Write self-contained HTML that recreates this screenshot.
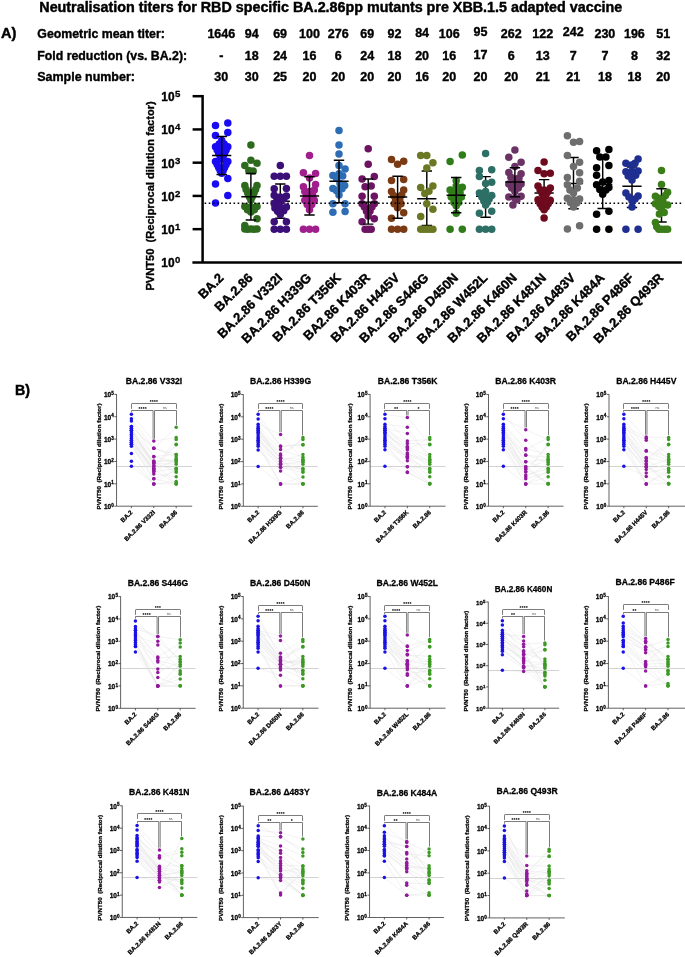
<!DOCTYPE html>
<html lang="en">
<head>
<meta charset="utf-8">
<title>Neutralisation titers for RBD specific BA.2.86pp mutants pre XBB.1.5 adapted vaccine</title>
<style>
html,body{margin:0;padding:0;background:#fff;}
body{width:685px;height:957px;overflow:hidden;font-family:"Liberation Sans", sans-serif;}
svg text{font-family:"Liberation Sans", sans-serif;}
</style>
</head>
<body>
<svg width="685" height="957" viewBox="0 0 685 957" font-family='"Liberation Sans", sans-serif' style="display:block;will-change:transform;opacity:0.999">
<rect width="685" height="957" fill="#fff"/>
<text x="39.30" y="11.80" font-size="14.0" font-weight="bold" fill="#000" textLength="583.0" lengthAdjust="spacingAndGlyphs" stroke="#000" stroke-width="0.43" stroke-linejoin="round" >Neutralisation titers for RBD specific BA.2.86pp mutants pre XBB.1.5 adapted vaccine</text>
<text x="1.00" y="37.80" font-size="14.6" font-weight="bold" fill="#000" textLength="15.4" lengthAdjust="spacingAndGlyphs" stroke="#000" stroke-width="0.45" stroke-linejoin="round" >A)</text>
<text x="15.00" y="394.60" font-size="15.2" font-weight="bold" fill="#000" textLength="15.0" lengthAdjust="spacingAndGlyphs" stroke="#000" stroke-width="0.47" stroke-linejoin="round" >B)</text>
<text x="37.30" y="37.90" font-size="12.3" font-weight="bold" fill="#000" textLength="127.5" lengthAdjust="spacingAndGlyphs" stroke="#000" stroke-width="0.38" stroke-linejoin="round" >Geometric mean titer:</text>
<text x="37.30" y="60.30" font-size="12.3" font-weight="bold" fill="#000" textLength="149.8" lengthAdjust="spacingAndGlyphs" stroke="#000" stroke-width="0.38" stroke-linejoin="round" >Fold reduction (vs. BA.2):</text>
<text x="37.30" y="81.00" font-size="12.3" font-weight="bold" fill="#000" textLength="97.6" lengthAdjust="spacingAndGlyphs" stroke="#000" stroke-width="0.38" stroke-linejoin="round" >Sample number:</text>
<text x="221.30" y="37.90" font-size="12.5" font-weight="bold" fill="#000" text-anchor="middle" stroke="#000" stroke-width="0.39" stroke-linejoin="round" >1646</text>
<text x="221.30" y="60.30" font-size="12.5" font-weight="bold" fill="#000" text-anchor="middle" stroke="#000" stroke-width="0.39" stroke-linejoin="round" >-</text>
<text x="221.30" y="81.00" font-size="12.5" font-weight="bold" fill="#000" text-anchor="middle" stroke="#000" stroke-width="0.39" stroke-linejoin="round" >30</text>
<text x="251.80" y="37.90" font-size="12.5" font-weight="bold" fill="#000" text-anchor="middle" stroke="#000" stroke-width="0.39" stroke-linejoin="round" >94</text>
<text x="251.80" y="60.30" font-size="12.5" font-weight="bold" fill="#000" text-anchor="middle" stroke="#000" stroke-width="0.39" stroke-linejoin="round" >18</text>
<text x="251.80" y="81.00" font-size="12.5" font-weight="bold" fill="#000" text-anchor="middle" stroke="#000" stroke-width="0.39" stroke-linejoin="round" >30</text>
<text x="280.10" y="37.90" font-size="12.5" font-weight="bold" fill="#000" text-anchor="middle" stroke="#000" stroke-width="0.39" stroke-linejoin="round" >69</text>
<text x="280.10" y="60.30" font-size="12.5" font-weight="bold" fill="#000" text-anchor="middle" stroke="#000" stroke-width="0.39" stroke-linejoin="round" >24</text>
<text x="280.10" y="81.00" font-size="12.5" font-weight="bold" fill="#000" text-anchor="middle" stroke="#000" stroke-width="0.39" stroke-linejoin="round" >25</text>
<text x="309.50" y="37.90" font-size="12.5" font-weight="bold" fill="#000" text-anchor="middle" stroke="#000" stroke-width="0.39" stroke-linejoin="round" >100</text>
<text x="309.50" y="60.30" font-size="12.5" font-weight="bold" fill="#000" text-anchor="middle" stroke="#000" stroke-width="0.39" stroke-linejoin="round" >16</text>
<text x="309.50" y="81.00" font-size="12.5" font-weight="bold" fill="#000" text-anchor="middle" stroke="#000" stroke-width="0.39" stroke-linejoin="round" >20</text>
<text x="338.20" y="37.90" font-size="12.5" font-weight="bold" fill="#000" text-anchor="middle" stroke="#000" stroke-width="0.39" stroke-linejoin="round" >276</text>
<text x="338.20" y="60.30" font-size="12.5" font-weight="bold" fill="#000" text-anchor="middle" stroke="#000" stroke-width="0.39" stroke-linejoin="round" >6</text>
<text x="338.20" y="81.00" font-size="12.5" font-weight="bold" fill="#000" text-anchor="middle" stroke="#000" stroke-width="0.39" stroke-linejoin="round" >20</text>
<text x="367.20" y="37.90" font-size="12.5" font-weight="bold" fill="#000" text-anchor="middle" stroke="#000" stroke-width="0.39" stroke-linejoin="round" >69</text>
<text x="367.20" y="60.30" font-size="12.5" font-weight="bold" fill="#000" text-anchor="middle" stroke="#000" stroke-width="0.39" stroke-linejoin="round" >24</text>
<text x="367.20" y="81.00" font-size="12.5" font-weight="bold" fill="#000" text-anchor="middle" stroke="#000" stroke-width="0.39" stroke-linejoin="round" >20</text>
<text x="394.40" y="37.90" font-size="12.5" font-weight="bold" fill="#000" text-anchor="middle" stroke="#000" stroke-width="0.39" stroke-linejoin="round" >92</text>
<text x="394.40" y="60.30" font-size="12.5" font-weight="bold" fill="#000" text-anchor="middle" stroke="#000" stroke-width="0.39" stroke-linejoin="round" >18</text>
<text x="394.40" y="81.00" font-size="12.5" font-weight="bold" fill="#000" text-anchor="middle" stroke="#000" stroke-width="0.39" stroke-linejoin="round" >20</text>
<text x="422.10" y="36.90" font-size="12.5" font-weight="bold" fill="#000" text-anchor="middle" stroke="#000" stroke-width="0.39" stroke-linejoin="round" >84</text>
<text x="422.10" y="60.30" font-size="12.5" font-weight="bold" fill="#000" text-anchor="middle" stroke="#000" stroke-width="0.39" stroke-linejoin="round" >20</text>
<text x="422.10" y="81.00" font-size="12.5" font-weight="bold" fill="#000" text-anchor="middle" stroke="#000" stroke-width="0.39" stroke-linejoin="round" >16</text>
<text x="449.20" y="37.90" font-size="12.5" font-weight="bold" fill="#000" text-anchor="middle" stroke="#000" stroke-width="0.39" stroke-linejoin="round" >106</text>
<text x="449.20" y="60.30" font-size="12.5" font-weight="bold" fill="#000" text-anchor="middle" stroke="#000" stroke-width="0.39" stroke-linejoin="round" >16</text>
<text x="449.20" y="81.00" font-size="12.5" font-weight="bold" fill="#000" text-anchor="middle" stroke="#000" stroke-width="0.39" stroke-linejoin="round" >20</text>
<text x="480.50" y="36.10" font-size="12.5" font-weight="bold" fill="#000" text-anchor="middle" stroke="#000" stroke-width="0.39" stroke-linejoin="round" >95</text>
<text x="480.50" y="58.70" font-size="12.5" font-weight="bold" fill="#000" text-anchor="middle" stroke="#000" stroke-width="0.39" stroke-linejoin="round" >17</text>
<text x="480.50" y="81.00" font-size="12.5" font-weight="bold" fill="#000" text-anchor="middle" stroke="#000" stroke-width="0.39" stroke-linejoin="round" >20</text>
<text x="511.20" y="37.90" font-size="12.5" font-weight="bold" fill="#000" text-anchor="middle" stroke="#000" stroke-width="0.39" stroke-linejoin="round" >262</text>
<text x="511.20" y="60.30" font-size="12.5" font-weight="bold" fill="#000" text-anchor="middle" stroke="#000" stroke-width="0.39" stroke-linejoin="round" >6</text>
<text x="511.20" y="81.00" font-size="12.5" font-weight="bold" fill="#000" text-anchor="middle" stroke="#000" stroke-width="0.39" stroke-linejoin="round" >20</text>
<text x="542.70" y="37.90" font-size="12.5" font-weight="bold" fill="#000" text-anchor="middle" stroke="#000" stroke-width="0.39" stroke-linejoin="round" >122</text>
<text x="542.70" y="60.30" font-size="12.5" font-weight="bold" fill="#000" text-anchor="middle" stroke="#000" stroke-width="0.39" stroke-linejoin="round" >13</text>
<text x="542.70" y="81.00" font-size="12.5" font-weight="bold" fill="#000" text-anchor="middle" stroke="#000" stroke-width="0.39" stroke-linejoin="round" >21</text>
<text x="573.20" y="36.10" font-size="12.5" font-weight="bold" fill="#000" text-anchor="middle" stroke="#000" stroke-width="0.39" stroke-linejoin="round" >242</text>
<text x="573.20" y="60.30" font-size="12.5" font-weight="bold" fill="#000" text-anchor="middle" stroke="#000" stroke-width="0.39" stroke-linejoin="round" >7</text>
<text x="573.20" y="81.00" font-size="12.5" font-weight="bold" fill="#000" text-anchor="middle" stroke="#000" stroke-width="0.39" stroke-linejoin="round" >21</text>
<text x="604.90" y="37.90" font-size="12.5" font-weight="bold" fill="#000" text-anchor="middle" stroke="#000" stroke-width="0.39" stroke-linejoin="round" >230</text>
<text x="604.90" y="60.30" font-size="12.5" font-weight="bold" fill="#000" text-anchor="middle" stroke="#000" stroke-width="0.39" stroke-linejoin="round" >7</text>
<text x="604.90" y="81.00" font-size="12.5" font-weight="bold" fill="#000" text-anchor="middle" stroke="#000" stroke-width="0.39" stroke-linejoin="round" >18</text>
<text x="634.40" y="37.90" font-size="12.5" font-weight="bold" fill="#000" text-anchor="middle" stroke="#000" stroke-width="0.39" stroke-linejoin="round" >196</text>
<text x="634.40" y="60.30" font-size="12.5" font-weight="bold" fill="#000" text-anchor="middle" stroke="#000" stroke-width="0.39" stroke-linejoin="round" >8</text>
<text x="634.40" y="81.00" font-size="12.5" font-weight="bold" fill="#000" text-anchor="middle" stroke="#000" stroke-width="0.39" stroke-linejoin="round" >18</text>
<text x="663.20" y="37.90" font-size="12.5" font-weight="bold" fill="#000" text-anchor="middle" stroke="#000" stroke-width="0.39" stroke-linejoin="round" >51</text>
<text x="663.20" y="60.30" font-size="12.5" font-weight="bold" fill="#000" text-anchor="middle" stroke="#000" stroke-width="0.39" stroke-linejoin="round" >32</text>
<text x="663.20" y="81.00" font-size="12.5" font-weight="bold" fill="#000" text-anchor="middle" stroke="#000" stroke-width="0.39" stroke-linejoin="round" >20</text>
<path d="M202.6 94.95V262.40" stroke="#000" stroke-width="2.5" fill="none"/>
<path d="M192.4 262.40H681.9" stroke="#000" stroke-width="2.5" fill="none"/>
<path d="M192.6 229.16H202.6" stroke="#000" stroke-width="2.5" fill="none"/>
<path d="M192.6 195.92H202.6" stroke="#000" stroke-width="2.5" fill="none"/>
<path d="M192.6 162.68H202.6" stroke="#000" stroke-width="2.5" fill="none"/>
<path d="M192.6 129.44H202.6" stroke="#000" stroke-width="2.5" fill="none"/>
<path d="M192.6 96.20H202.6" stroke="#000" stroke-width="2.5" fill="none"/>
<text x="174.50" y="267.30" font-size="11.9" font-weight="bold" fill="#000" text-anchor="end" stroke="#000" stroke-width="0.37" stroke-linejoin="round" >10</text>
<text x="174.90" y="263.40" font-size="9.6" font-weight="bold" fill="#000" stroke="#000" stroke-width="0.3" stroke-linejoin="round" >0</text>
<text x="174.50" y="234.06" font-size="11.9" font-weight="bold" fill="#000" text-anchor="end" stroke="#000" stroke-width="0.37" stroke-linejoin="round" >10</text>
<text x="174.90" y="230.16" font-size="9.6" font-weight="bold" fill="#000" stroke="#000" stroke-width="0.3" stroke-linejoin="round" >1</text>
<text x="174.50" y="200.82" font-size="11.9" font-weight="bold" fill="#000" text-anchor="end" stroke="#000" stroke-width="0.37" stroke-linejoin="round" >10</text>
<text x="174.90" y="196.92" font-size="9.6" font-weight="bold" fill="#000" stroke="#000" stroke-width="0.3" stroke-linejoin="round" >2</text>
<text x="174.50" y="167.58" font-size="11.9" font-weight="bold" fill="#000" text-anchor="end" stroke="#000" stroke-width="0.37" stroke-linejoin="round" >10</text>
<text x="174.90" y="163.68" font-size="9.6" font-weight="bold" fill="#000" stroke="#000" stroke-width="0.3" stroke-linejoin="round" >3</text>
<text x="174.50" y="134.34" font-size="11.9" font-weight="bold" fill="#000" text-anchor="end" stroke="#000" stroke-width="0.37" stroke-linejoin="round" >10</text>
<text x="174.90" y="130.44" font-size="9.6" font-weight="bold" fill="#000" stroke="#000" stroke-width="0.3" stroke-linejoin="round" >4</text>
<text x="174.50" y="101.10" font-size="11.9" font-weight="bold" fill="#000" text-anchor="end" stroke="#000" stroke-width="0.37" stroke-linejoin="round" >10</text>
<text x="174.90" y="97.20" font-size="9.6" font-weight="bold" fill="#000" stroke="#000" stroke-width="0.3" stroke-linejoin="round" >5</text>
<text x="154.20" y="290.60" font-size="11.4" font-weight="bold" fill="#000" textLength="189.4" lengthAdjust="spacingAndGlyphs" transform="rotate(-90 154.20 290.60)" stroke="#000" stroke-width="0.35" stroke-linejoin="round" >PVNT50&#160;&#160;(Reciprocal dilution factor)</text>
<text x="224.36" y="278.60" font-size="13.0" font-weight="bold" fill="#000" text-anchor="end" transform="rotate(-45 224.36 278.60)" stroke="#000" stroke-width="0.4" stroke-linejoin="round" >BA.2</text>
<text x="253.57" y="278.60" font-size="13.0" font-weight="bold" fill="#000" text-anchor="end" transform="rotate(-45 253.57 278.60)" stroke="#000" stroke-width="0.4" stroke-linejoin="round" >BA.2.86</text>
<text x="283.00" y="278.60" font-size="13.0" font-weight="bold" fill="#000" text-anchor="end" transform="rotate(-45 283.00 278.60)" stroke="#000" stroke-width="0.4" stroke-linejoin="round" >BA.2.86 V332I</text>
<text x="312.21" y="278.60" font-size="13.0" font-weight="bold" fill="#000" text-anchor="end" transform="rotate(-45 312.21 278.60)" stroke="#000" stroke-width="0.4" stroke-linejoin="round" >BA.2.86 H339G</text>
<text x="341.73" y="278.60" font-size="13.0" font-weight="bold" fill="#000" text-anchor="end" transform="rotate(-45 341.73 278.60)" stroke="#000" stroke-width="0.4" stroke-linejoin="round" >BA.2.86 T356K</text>
<text x="370.94" y="278.60" font-size="13.0" font-weight="bold" fill="#000" text-anchor="end" transform="rotate(-45 370.94 278.60)" stroke="#000" stroke-width="0.4" stroke-linejoin="round" >BA2.86 K403R</text>
<text x="400.32" y="278.60" font-size="13.0" font-weight="bold" fill="#000" text-anchor="end" transform="rotate(-45 400.32 278.60)" stroke="#000" stroke-width="0.4" stroke-linejoin="round" >BA.2.86 H445V</text>
<text x="429.53" y="278.60" font-size="13.0" font-weight="bold" fill="#000" text-anchor="end" transform="rotate(-45 429.53 278.60)" stroke="#000" stroke-width="0.4" stroke-linejoin="round" >BA.2.86 S446G</text>
<text x="458.91" y="278.60" font-size="13.0" font-weight="bold" fill="#000" text-anchor="end" transform="rotate(-45 458.91 278.60)" stroke="#000" stroke-width="0.4" stroke-linejoin="round" >BA.2.86 D450N</text>
<text x="488.26" y="278.60" font-size="13.0" font-weight="bold" fill="#000" text-anchor="end" transform="rotate(-45 488.26 278.60)" stroke="#000" stroke-width="0.4" stroke-linejoin="round" >BA.2.86 W452L</text>
<text x="517.64" y="278.60" font-size="13.0" font-weight="bold" fill="#000" text-anchor="end" transform="rotate(-45 517.64 278.60)" stroke="#000" stroke-width="0.4" stroke-linejoin="round" >BA.2.86 K460N</text>
<text x="546.85" y="278.60" font-size="13.0" font-weight="bold" fill="#000" text-anchor="end" transform="rotate(-45 546.85 278.60)" stroke="#000" stroke-width="0.4" stroke-linejoin="round" >BA.2.86 K481N</text>
<text x="576.24" y="278.60" font-size="13.0" font-weight="bold" fill="#000" text-anchor="end" transform="rotate(-45 576.24 278.60)" stroke="#000" stroke-width="0.4" stroke-linejoin="round" >BA.2.86 &#916;483V</text>
<text x="605.44" y="278.60" font-size="13.0" font-weight="bold" fill="#000" text-anchor="end" transform="rotate(-45 605.44 278.60)" stroke="#000" stroke-width="0.4" stroke-linejoin="round" >BA.2.86 K484A</text>
<text x="634.69" y="278.60" font-size="13.0" font-weight="bold" fill="#000" text-anchor="end" transform="rotate(-45 634.69 278.60)" stroke="#000" stroke-width="0.4" stroke-linejoin="round" >BA.2.86 P486F</text>
<text x="664.17" y="278.60" font-size="13.0" font-weight="bold" fill="#000" text-anchor="end" transform="rotate(-45 664.17 278.60)" stroke="#000" stroke-width="0.4" stroke-linejoin="round" >BA.2.86 Q493R</text>
<g fill="#1a0cf2"><circle cx="227.8" cy="122.9" r="3.75"/><circle cx="215.5" cy="125.6" r="3.75"/><circle cx="227.8" cy="132.4" r="3.75"/><circle cx="215.5" cy="135.5" r="3.75"/><circle cx="221.7" cy="140.6" r="3.75"/><circle cx="219.2" cy="144.0" r="3.75"/><circle cx="224.1" cy="144.0" r="3.75"/><circle cx="215.5" cy="146.7" r="3.75"/><circle cx="227.8" cy="146.7" r="3.75"/><circle cx="217.2" cy="150.1" r="3.75"/><circle cx="226.1" cy="150.1" r="3.75"/><circle cx="218.7" cy="153.2" r="3.75"/><circle cx="224.6" cy="153.2" r="3.75"/><circle cx="220.2" cy="156.2" r="3.75"/><circle cx="223.2" cy="156.2" r="3.75"/><circle cx="221.7" cy="159.2" r="3.75"/><circle cx="221.7" cy="149.7" r="3.75"/><circle cx="215.5" cy="161.6" r="3.75"/><circle cx="227.8" cy="161.6" r="3.75"/><circle cx="217.2" cy="164.6" r="3.75"/><circle cx="226.1" cy="164.6" r="3.75"/><circle cx="218.7" cy="167.6" r="3.75"/><circle cx="224.6" cy="167.6" r="3.75"/><circle cx="220.2" cy="170.4" r="3.75"/><circle cx="223.2" cy="170.4" r="3.75"/><circle cx="221.7" cy="173.2" r="3.75"/><circle cx="227.8" cy="178.6" r="3.75"/><circle cx="215.5" cy="184.0" r="3.75"/><circle cx="227.8" cy="195.6" r="3.75"/><circle cx="215.5" cy="203.1" r="3.75"/></g>
<g fill="#2d6a1e"><circle cx="250.9" cy="145.0" r="3.75"/><circle cx="250.9" cy="160.3" r="3.75"/><circle cx="257.0" cy="163.2" r="3.75"/><circle cx="244.8" cy="165.4" r="3.75"/><circle cx="248.8" cy="170.4" r="3.75"/><circle cx="253.2" cy="171.1" r="3.75"/><circle cx="244.8" cy="185.4" r="3.75"/><circle cx="257.0" cy="185.4" r="3.75"/><circle cx="246.1" cy="189.5" r="3.75"/><circle cx="255.6" cy="189.5" r="3.75"/><circle cx="247.7" cy="193.1" r="3.75"/><circle cx="254.0" cy="193.1" r="3.75"/><circle cx="249.5" cy="196.9" r="3.75"/><circle cx="252.2" cy="196.9" r="3.75"/><circle cx="250.9" cy="199.9" r="3.75"/><circle cx="244.8" cy="206.4" r="3.75"/><circle cx="257.0" cy="206.4" r="3.75"/><circle cx="247.5" cy="209.8" r="3.75"/><circle cx="254.3" cy="209.8" r="3.75"/><circle cx="250.9" cy="211.9" r="3.75"/><circle cx="257.0" cy="218.7" r="3.75"/><circle cx="244.8" cy="225.5" r="3.75"/><circle cx="244.8" cy="228.9" r="3.75"/><circle cx="250.9" cy="228.9" r="3.75"/><circle cx="257.0" cy="228.9" r="3.75"/><circle cx="247.7" cy="229.3" r="3.75"/><circle cx="254.0" cy="229.3" r="3.75"/><circle cx="250.9" cy="195.3" r="3.75"/><circle cx="250.9" cy="193.1" r="3.75"/><circle cx="250.9" cy="206.7" r="3.75"/></g>
<g fill="#a11f8d"><circle cx="309.5" cy="155.5" r="3.75"/><circle cx="303.4" cy="172.8" r="3.75"/><circle cx="315.6" cy="173.6" r="3.75"/><circle cx="309.5" cy="177.9" r="3.75"/><circle cx="303.4" cy="186.8" r="3.75"/><circle cx="315.6" cy="184.4" r="3.75"/><circle cx="304.8" cy="191.5" r="3.75"/><circle cx="314.3" cy="190.1" r="3.75"/><circle cx="306.4" cy="195.6" r="3.75"/><circle cx="312.6" cy="194.9" r="3.75"/><circle cx="309.5" cy="198.3" r="3.75"/><circle cx="304.8" cy="200.3" r="3.75"/><circle cx="314.3" cy="200.3" r="3.75"/><circle cx="307.2" cy="204.4" r="3.75"/><circle cx="311.8" cy="204.4" r="3.75"/><circle cx="309.5" cy="209.8" r="3.75"/><circle cx="303.4" cy="229.3" r="3.75"/><circle cx="309.5" cy="229.3" r="3.75"/><circle cx="315.6" cy="229.3" r="3.75"/><circle cx="309.5" cy="191.5" r="3.75"/></g>
<g fill="#2e6cb3"><circle cx="339.0" cy="130.6" r="3.75"/><circle cx="339.0" cy="145.0" r="3.75"/><circle cx="339.0" cy="154.1" r="3.75"/><circle cx="339.0" cy="165.4" r="3.75"/><circle cx="345.1" cy="169.1" r="3.75"/><circle cx="332.9" cy="175.5" r="3.75"/><circle cx="342.7" cy="175.9" r="3.75"/><circle cx="336.6" cy="178.6" r="3.75"/><circle cx="344.7" cy="185.4" r="3.75"/><circle cx="332.9" cy="188.5" r="3.75"/><circle cx="342.0" cy="188.8" r="3.75"/><circle cx="336.6" cy="190.8" r="3.75"/><circle cx="339.0" cy="194.9" r="3.75"/><circle cx="340.0" cy="183.4" r="3.75"/><circle cx="332.9" cy="203.7" r="3.75"/><circle cx="345.1" cy="203.7" r="3.75"/><circle cx="332.9" cy="212.2" r="3.75"/><circle cx="345.1" cy="211.6" r="3.75"/><circle cx="339.0" cy="173.8" r="3.75"/><circle cx="339.0" cy="189.5" r="3.75"/></g>
<g fill="#6d1363"><circle cx="368.2" cy="148.7" r="3.75"/><circle cx="368.2" cy="164.3" r="3.75"/><circle cx="374.3" cy="176.6" r="3.75"/><circle cx="362.1" cy="179.0" r="3.75"/><circle cx="365.1" cy="186.8" r="3.75"/><circle cx="371.2" cy="186.1" r="3.75"/><circle cx="362.1" cy="196.3" r="3.75"/><circle cx="374.3" cy="196.3" r="3.75"/><circle cx="362.1" cy="203.7" r="3.75"/><circle cx="374.3" cy="203.7" r="3.75"/><circle cx="364.4" cy="207.1" r="3.75"/><circle cx="371.9" cy="207.1" r="3.75"/><circle cx="366.5" cy="211.2" r="3.75"/><circle cx="369.9" cy="211.2" r="3.75"/><circle cx="368.2" cy="216.0" r="3.75"/><circle cx="374.3" cy="218.7" r="3.75"/><circle cx="362.1" cy="221.7" r="3.75"/><circle cx="365.1" cy="229.3" r="3.75"/><circle cx="371.2" cy="229.3" r="3.75"/><circle cx="368.2" cy="229.3" r="3.75"/></g>
<g fill="#7a3b14"><circle cx="391.5" cy="159.6" r="3.75"/><circle cx="403.7" cy="161.3" r="3.75"/><circle cx="397.6" cy="164.3" r="3.75"/><circle cx="391.5" cy="180.6" r="3.75"/><circle cx="403.7" cy="179.6" r="3.75"/><circle cx="391.5" cy="191.5" r="3.75"/><circle cx="403.7" cy="190.1" r="3.75"/><circle cx="393.5" cy="195.6" r="3.75"/><circle cx="401.7" cy="194.9" r="3.75"/><circle cx="395.6" cy="199.7" r="3.75"/><circle cx="399.7" cy="199.7" r="3.75"/><circle cx="397.6" cy="203.7" r="3.75"/><circle cx="397.6" cy="207.8" r="3.75"/><circle cx="394.2" cy="203.7" r="3.75"/><circle cx="401.0" cy="203.7" r="3.75"/><circle cx="403.7" cy="212.8" r="3.75"/><circle cx="391.5" cy="218.3" r="3.75"/><circle cx="391.5" cy="229.3" r="3.75"/><circle cx="397.6" cy="229.3" r="3.75"/><circle cx="403.7" cy="229.3" r="3.75"/></g>
<g fill="#2e7d19"><circle cx="462.3" cy="155.1" r="3.75"/><circle cx="450.1" cy="161.6" r="3.75"/><circle cx="456.2" cy="180.6" r="3.75"/><circle cx="462.3" cy="187.2" r="3.75"/><circle cx="450.1" cy="190.1" r="3.75"/><circle cx="452.5" cy="193.5" r="3.75"/><circle cx="460.0" cy="192.2" r="3.75"/><circle cx="454.6" cy="196.9" r="3.75"/><circle cx="458.0" cy="196.3" r="3.75"/><circle cx="456.2" cy="199.7" r="3.75"/><circle cx="451.2" cy="196.9" r="3.75"/><circle cx="461.4" cy="196.9" r="3.75"/><circle cx="453.9" cy="202.4" r="3.75"/><circle cx="458.7" cy="202.4" r="3.75"/><circle cx="456.2" cy="205.8" r="3.75"/><circle cx="456.2" cy="191.5" r="3.75"/><circle cx="456.2" cy="213.2" r="3.75"/><circle cx="450.1" cy="229.3" r="3.75"/><circle cx="462.3" cy="229.3" r="3.75"/><circle cx="456.2" cy="186.1" r="3.75"/></g>
<path d="M204.6 203.3H683" stroke="#000" stroke-width="1.6" stroke-dasharray="1.6 2.53" fill="none"/>
<path d="M221.7 136.5V174.5M216.5 136.5h10.4M216.5 174.5h10.4M212.1 155.5h19.2" stroke="#000" stroke-width="1.45" fill="none"/>
<path d="M250.9 173.4V220.0M245.7 173.4h10.4M245.7 220.0h10.4M241.3 196.7h19.2" stroke="#000" stroke-width="1.45" fill="none"/>
<path d="M309.5 176.8V214.9M304.3 176.8h10.4M304.3 214.9h10.4M299.9 195.9h19.2" stroke="#000" stroke-width="1.45" fill="none"/>
<path d="M339.0 160.3V202.7M333.8 160.3h10.4M333.8 202.7h10.4M329.4 181.2h19.2" stroke="#000" stroke-width="1.45" fill="none"/>
<path d="M368.2 179.0V224.1M363.0 179.0h10.4M363.0 224.1h10.4M358.6 202.1h19.2" stroke="#000" stroke-width="1.45" fill="none"/>
<path d="M397.6 176.2V218.3M392.4 176.2h10.4M392.4 218.3h10.4M388.0 197.0h19.2" stroke="#000" stroke-width="1.45" fill="none"/>
<path d="M456.2 177.5V212.8M451.0 177.5h10.4M451.0 212.8h10.4M446.6 195.3h19.2" stroke="#000" stroke-width="1.45" fill="none"/>
<g fill="#6b3365"><circle cx="514.9" cy="150.1" r="3.75"/><circle cx="508.8" cy="157.3" r="3.75"/><circle cx="521.1" cy="162.3" r="3.75"/><circle cx="514.9" cy="166.4" r="3.75"/><circle cx="508.8" cy="172.5" r="3.75"/><circle cx="521.1" cy="173.8" r="3.75"/><circle cx="510.9" cy="177.2" r="3.75"/><circle cx="519.0" cy="177.9" r="3.75"/><circle cx="514.9" cy="179.3" r="3.75"/><circle cx="508.8" cy="184.0" r="3.75"/><circle cx="521.1" cy="184.0" r="3.75"/><circle cx="511.5" cy="188.1" r="3.75"/><circle cx="518.3" cy="188.1" r="3.75"/><circle cx="514.9" cy="191.5" r="3.75"/><circle cx="508.8" cy="196.9" r="3.75"/><circle cx="521.1" cy="196.3" r="3.75"/><circle cx="514.9" cy="198.3" r="3.75"/><circle cx="512.9" cy="205.1" r="3.75"/><circle cx="514.9" cy="185.4" r="3.75"/><circle cx="517.0" cy="199.7" r="3.75"/></g>
<path d="M514.9 167.7V196.7M509.7 167.7h10.4M509.7 196.7h10.4M505.3 182.0h19.2" stroke="#000" stroke-width="1.45" fill="none"/>
<path d="M280.3 184.0V218.3M275.1 184.0h10.4M275.1 218.3h10.4M270.7 201.3h19.2" stroke="#000" stroke-width="1.45" fill="none"/>
<g fill="#3b0f78"><circle cx="280.3" cy="165.4" r="3.75"/><circle cx="274.2" cy="176.2" r="3.75"/><circle cx="280.3" cy="176.2" r="3.75"/><circle cx="286.4" cy="176.2" r="3.75"/><circle cx="274.2" cy="188.8" r="3.75"/><circle cx="286.4" cy="188.5" r="3.75"/><circle cx="274.2" cy="195.3" r="3.75"/><circle cx="286.4" cy="195.9" r="3.75"/><circle cx="276.9" cy="198.3" r="3.75"/><circle cx="283.7" cy="199.0" r="3.75"/><circle cx="280.3" cy="201.7" r="3.75"/><circle cx="274.2" cy="203.5" r="3.75"/><circle cx="277.6" cy="205.8" r="3.75"/><circle cx="286.4" cy="207.1" r="3.75"/><circle cx="274.9" cy="208.1" r="3.75"/><circle cx="277.6" cy="211.2" r="3.75"/><circle cx="283.7" cy="210.8" r="3.75"/><circle cx="280.3" cy="214.6" r="3.75"/><circle cx="274.2" cy="221.7" r="3.75"/><circle cx="286.4" cy="221.7" r="3.75"/><circle cx="274.2" cy="229.3" r="3.75"/><circle cx="280.3" cy="229.3" r="3.75"/><circle cx="286.4" cy="229.3" r="3.75"/><circle cx="280.3" cy="196.9" r="3.75"/><circle cx="280.3" cy="207.8" r="3.75"/></g>
<path d="M426.8 170.9V225.5M421.6 170.9h10.4M421.6 225.5h10.4M417.2 198.7h19.2" stroke="#000" stroke-width="1.45" fill="none"/>
<g fill="#6b7823"><circle cx="420.7" cy="155.5" r="3.75"/><circle cx="426.8" cy="155.5" r="3.75"/><circle cx="432.9" cy="162.7" r="3.75"/><circle cx="426.8" cy="168.1" r="3.75"/><circle cx="420.7" cy="187.4" r="3.75"/><circle cx="432.9" cy="186.1" r="3.75"/><circle cx="428.9" cy="191.2" r="3.75"/><circle cx="424.8" cy="193.5" r="3.75"/><circle cx="426.8" cy="203.7" r="3.75"/><circle cx="432.9" cy="209.2" r="3.75"/><circle cx="420.7" cy="216.4" r="3.75"/><circle cx="420.7" cy="229.3" r="3.75"/><circle cx="423.7" cy="229.3" r="3.75"/><circle cx="426.8" cy="229.3" r="3.75"/><circle cx="429.8" cy="229.3" r="3.75"/><circle cx="432.9" cy="229.3" r="3.75"/></g>
<path d="M485.6 176.6V217.3M480.4 176.6h10.4M480.4 217.3h10.4M476.0 196.3h19.2" stroke="#000" stroke-width="1.45" fill="none"/>
<g fill="#2d6e65"><circle cx="485.6" cy="153.5" r="3.75"/><circle cx="479.4" cy="170.4" r="3.75"/><circle cx="491.7" cy="169.8" r="3.75"/><circle cx="479.4" cy="176.6" r="3.75"/><circle cx="485.6" cy="183.4" r="3.75"/><circle cx="491.7" cy="182.3" r="3.75"/><circle cx="479.4" cy="192.9" r="3.75"/><circle cx="491.7" cy="195.6" r="3.75"/><circle cx="481.8" cy="196.9" r="3.75"/><circle cx="489.2" cy="199.0" r="3.75"/><circle cx="483.8" cy="201.0" r="3.75"/><circle cx="487.2" cy="202.4" r="3.75"/><circle cx="485.6" cy="205.1" r="3.75"/><circle cx="485.6" cy="196.9" r="3.75"/><circle cx="479.4" cy="213.2" r="3.75"/><circle cx="491.7" cy="211.2" r="3.75"/><circle cx="479.4" cy="229.3" r="3.75"/><circle cx="485.6" cy="229.3" r="3.75"/><circle cx="491.7" cy="229.3" r="3.75"/><circle cx="485.6" cy="191.5" r="3.75"/></g>
<path d="M544.1 179.6V207.1M538.9 179.6h10.4M538.9 207.1h10.4M534.5 192.9h19.2" stroke="#000" stroke-width="1.45" fill="none"/>
<g fill="#6e0a1e"><circle cx="544.1" cy="161.9" r="3.75"/><circle cx="538.0" cy="170.4" r="3.75"/><circle cx="550.3" cy="173.2" r="3.75"/><circle cx="544.1" cy="173.8" r="3.75"/><circle cx="538.0" cy="186.1" r="3.75"/><circle cx="550.3" cy="188.1" r="3.75"/><circle cx="540.1" cy="190.1" r="3.75"/><circle cx="548.2" cy="191.5" r="3.75"/><circle cx="542.1" cy="193.5" r="3.75"/><circle cx="546.2" cy="194.2" r="3.75"/><circle cx="544.1" cy="196.9" r="3.75"/><circle cx="538.0" cy="199.7" r="3.75"/><circle cx="550.3" cy="200.3" r="3.75"/><circle cx="540.1" cy="203.7" r="3.75"/><circle cx="548.2" cy="203.7" r="3.75"/><circle cx="542.1" cy="207.1" r="3.75"/><circle cx="546.2" cy="207.1" r="3.75"/><circle cx="544.1" cy="209.8" r="3.75"/><circle cx="544.1" cy="202.4" r="3.75"/><circle cx="544.1" cy="218.0" r="3.75"/><circle cx="544.1" cy="190.1" r="3.75"/></g>
<path d="M573.5 157.5V208.8M568.3 157.5h10.4M568.3 208.8h10.4M563.9 183.4h19.2" stroke="#000" stroke-width="1.45" fill="none"/>
<g fill="#6e6e6e"><circle cx="567.4" cy="135.8" r="3.75"/><circle cx="573.5" cy="142.3" r="3.75"/><circle cx="579.6" cy="141.5" r="3.75"/><circle cx="567.4" cy="155.5" r="3.75"/><circle cx="579.6" cy="162.3" r="3.75"/><circle cx="573.5" cy="166.4" r="3.75"/><circle cx="579.6" cy="172.8" r="3.75"/><circle cx="567.4" cy="177.6" r="3.75"/><circle cx="579.6" cy="181.3" r="3.75"/><circle cx="567.4" cy="184.7" r="3.75"/><circle cx="569.9" cy="190.1" r="3.75"/><circle cx="577.3" cy="188.1" r="3.75"/><circle cx="573.5" cy="192.9" r="3.75"/><circle cx="567.4" cy="198.3" r="3.75"/><circle cx="579.6" cy="199.0" r="3.75"/><circle cx="570.5" cy="202.4" r="3.75"/><circle cx="576.7" cy="203.1" r="3.75"/><circle cx="573.5" cy="207.1" r="3.75"/><circle cx="579.6" cy="225.7" r="3.75"/><circle cx="567.4" cy="228.9" r="3.75"/><circle cx="573.5" cy="199.7" r="3.75"/></g>
<path d="M602.7 157.5V208.5M597.5 157.5h10.4M597.5 208.5h10.4M593.1 184.4h19.2" stroke="#000" stroke-width="1.45" fill="none"/>
<g fill="#000000"><circle cx="608.9" cy="149.4" r="3.75"/><circle cx="596.6" cy="150.8" r="3.75"/><circle cx="599.8" cy="156.9" r="3.75"/><circle cx="605.9" cy="156.9" r="3.75"/><circle cx="608.9" cy="165.4" r="3.75"/><circle cx="596.6" cy="167.7" r="3.75"/><circle cx="596.6" cy="175.2" r="3.75"/><circle cx="608.9" cy="180.6" r="3.75"/><circle cx="602.7" cy="182.0" r="3.75"/><circle cx="596.6" cy="184.7" r="3.75"/><circle cx="608.9" cy="187.4" r="3.75"/><circle cx="599.8" cy="189.5" r="3.75"/><circle cx="605.9" cy="190.1" r="3.75"/><circle cx="602.7" cy="194.2" r="3.75"/><circle cx="608.9" cy="211.2" r="3.75"/><circle cx="596.6" cy="214.3" r="3.75"/><circle cx="596.6" cy="229.3" r="3.75"/><circle cx="608.9" cy="229.3" r="3.75"/></g>
<path d="M632.0 167.0V207.5M626.8 167.0h10.4M626.8 207.5h10.4M622.4 186.3h19.2" stroke="#000" stroke-width="1.45" fill="none"/>
<g fill="#1f2e91"><circle cx="638.1" cy="158.9" r="3.75"/><circle cx="625.9" cy="163.2" r="3.75"/><circle cx="635.0" cy="163.2" r="3.75"/><circle cx="631.6" cy="165.0" r="3.75"/><circle cx="625.9" cy="171.8" r="3.75"/><circle cx="638.1" cy="171.1" r="3.75"/><circle cx="628.2" cy="175.9" r="3.75"/><circle cx="635.7" cy="175.2" r="3.75"/><circle cx="632.0" cy="180.0" r="3.75"/><circle cx="625.9" cy="192.9" r="3.75"/><circle cx="638.1" cy="195.9" r="3.75"/><circle cx="628.9" cy="196.9" r="3.75"/><circle cx="635.0" cy="199.0" r="3.75"/><circle cx="632.0" cy="200.7" r="3.75"/><circle cx="632.0" cy="207.1" r="3.75"/><circle cx="625.9" cy="229.3" r="3.75"/><circle cx="638.1" cy="229.3" r="3.75"/><circle cx="632.0" cy="171.1" r="3.75"/></g>
<path d="M661.5 188.8V222.0M656.3 188.8h10.4M656.3 222.0h10.4M651.9 204.0h19.2" stroke="#000" stroke-width="1.45" fill="none"/>
<g fill="#3a7d19"><circle cx="661.5" cy="170.4" r="3.75"/><circle cx="661.5" cy="184.4" r="3.75"/><circle cx="667.6" cy="192.2" r="3.75"/><circle cx="655.4" cy="196.3" r="3.75"/><circle cx="665.5" cy="195.6" r="3.75"/><circle cx="658.8" cy="198.3" r="3.75"/><circle cx="662.8" cy="200.3" r="3.75"/><circle cx="655.4" cy="203.7" r="3.75"/><circle cx="667.6" cy="205.1" r="3.75"/><circle cx="658.8" cy="206.4" r="3.75"/><circle cx="661.5" cy="208.5" r="3.75"/><circle cx="664.2" cy="212.6" r="3.75"/><circle cx="659.4" cy="213.9" r="3.75"/><circle cx="655.4" cy="222.5" r="3.75"/><circle cx="658.8" cy="229.3" r="3.75"/><circle cx="661.7" cy="229.3" r="3.75"/><circle cx="664.9" cy="229.3" r="3.75"/><circle cx="667.6" cy="229.3" r="3.75"/><circle cx="656.7" cy="226.8" r="3.75"/><circle cx="661.5" cy="203.7" r="3.75"/></g>
<text x="154.00" y="384.00" font-size="8.6" font-weight="bold" fill="#000" text-anchor="middle" stroke="#000" stroke-width="0.27" stroke-linejoin="round" >BA.2.86 V332I</text>
<path d="M116.55 466.5H192.2" stroke="#b4b4b4" stroke-width="0.6" fill="none"/>
<path d="M131.4 414.2L153.8 441.0L176.2 437.5M131.4 418.8L153.8 448.2L176.2 454.4M131.4 420.9L153.8 456.5L176.2 454.4M131.4 426.5L153.8 448.2L176.2 427.3M131.4 426.5L153.8 448.2L176.2 457.1M131.4 428.4L153.8 456.7L176.2 462.2M131.4 428.4L153.8 466.6L176.2 444.3M131.4 430.4L153.8 461.4L176.2 459.6M131.4 430.6L153.8 461.1L176.2 461.1M131.4 430.6L153.8 463.1L176.2 483.6M131.4 432.7L153.8 462.2L176.2 472.2M131.4 434.8L153.8 463.5L176.2 464.2M131.4 434.8L153.8 465.4L176.2 468.6M131.4 436.8L153.8 469.7L176.2 444.8M131.4 438.4L153.8 471.5L176.2 459.6M131.4 440.4L153.8 468.1L176.2 439.5M131.4 440.4L153.8 469.0L176.2 459.6M131.4 442.4L153.8 471.8L176.2 468.7M131.4 442.4L153.8 469.5L176.2 483.9M131.4 444.3L153.8 474.0L176.2 476.8M131.4 444.3L153.8 478.8L176.2 470.8M131.4 446.2L153.8 478.8L176.2 483.6M131.4 453.5L153.8 483.9L176.2 468.6M131.4 461.3L153.8 483.9L176.2 483.9M131.4 466.3L153.8 483.9L176.2 481.4" stroke="#e2e2e2" stroke-width="0.45" fill="none"/>
<path d="M131.5 408.9V404.1Q131.5 403.5 132.1 403.5H175.9Q176.5 403.5 176.5 404.1V408.9M131.5 411.9V410.5H153.08V438.8M154.52 438.8V410.5H176.5V425.0" stroke="#484848" stroke-width="0.72" fill="none"/>
<g fill="#2a2a2a"><circle cx="150.65" cy="400.90" r="0.85"/><circle cx="152.75" cy="400.90" r="0.85"/><circle cx="154.85" cy="400.90" r="0.85"/><circle cx="156.95" cy="400.90" r="0.85"/></g>
<g fill="#2a2a2a"><circle cx="139.45" cy="407.90" r="0.85"/><circle cx="141.55" cy="407.90" r="0.85"/><circle cx="143.65" cy="407.90" r="0.85"/><circle cx="145.75" cy="407.90" r="0.85"/></g>
<text x="165.00" y="409.00" font-size="3.7" font-weight="normal" fill="#444" text-anchor="middle" >ns</text>
<g fill="#1a12e4"><circle cx="131.4" cy="414.2" r="1.75"/><circle cx="131.4" cy="418.8" r="1.75"/><circle cx="131.4" cy="420.9" r="1.75"/><circle cx="131.4" cy="426.5" r="1.75"/><circle cx="131.4" cy="426.5" r="1.75"/><circle cx="131.4" cy="428.4" r="1.75"/><circle cx="131.4" cy="428.4" r="1.75"/><circle cx="131.4" cy="430.4" r="1.75"/><circle cx="131.4" cy="430.6" r="1.75"/><circle cx="131.4" cy="430.6" r="1.75"/><circle cx="131.4" cy="432.7" r="1.75"/><circle cx="131.4" cy="434.8" r="1.75"/><circle cx="131.4" cy="434.8" r="1.75"/><circle cx="131.4" cy="436.8" r="1.75"/><circle cx="131.4" cy="438.4" r="1.75"/><circle cx="131.4" cy="440.4" r="1.75"/><circle cx="131.4" cy="440.4" r="1.75"/><circle cx="131.4" cy="442.4" r="1.75"/><circle cx="131.4" cy="442.4" r="1.75"/><circle cx="131.4" cy="444.3" r="1.75"/><circle cx="131.4" cy="444.3" r="1.75"/><circle cx="131.4" cy="446.2" r="1.75"/><circle cx="131.4" cy="453.5" r="1.75"/><circle cx="131.4" cy="461.3" r="1.75"/><circle cx="131.4" cy="466.3" r="1.75"/></g>
<g fill="#92199e"><circle cx="153.8" cy="441.0" r="1.75"/><circle cx="153.8" cy="448.2" r="1.75"/><circle cx="153.8" cy="448.2" r="1.75"/><circle cx="153.8" cy="448.2" r="1.75"/><circle cx="153.8" cy="456.5" r="1.75"/><circle cx="153.8" cy="456.7" r="1.75"/><circle cx="153.8" cy="461.1" r="1.75"/><circle cx="153.8" cy="461.4" r="1.75"/><circle cx="153.8" cy="462.2" r="1.75"/><circle cx="153.8" cy="463.1" r="1.75"/><circle cx="153.8" cy="463.5" r="1.75"/><circle cx="153.8" cy="465.4" r="1.75"/><circle cx="153.8" cy="466.6" r="1.75"/><circle cx="153.8" cy="468.1" r="1.75"/><circle cx="153.8" cy="469.0" r="1.75"/><circle cx="153.8" cy="469.5" r="1.75"/><circle cx="153.8" cy="469.7" r="1.75"/><circle cx="153.8" cy="471.5" r="1.75"/><circle cx="153.8" cy="471.8" r="1.75"/><circle cx="153.8" cy="474.0" r="1.75"/><circle cx="153.8" cy="478.8" r="1.75"/><circle cx="153.8" cy="478.8" r="1.75"/><circle cx="153.8" cy="483.9" r="1.75"/><circle cx="153.8" cy="483.9" r="1.75"/><circle cx="153.8" cy="483.9" r="1.75"/></g>
<g fill="#3c9a24"><circle cx="176.2" cy="427.3" r="1.75"/><circle cx="176.2" cy="437.5" r="1.75"/><circle cx="176.2" cy="439.5" r="1.75"/><circle cx="176.2" cy="444.3" r="1.75"/><circle cx="176.2" cy="444.8" r="1.75"/><circle cx="176.2" cy="454.4" r="1.75"/><circle cx="176.2" cy="454.4" r="1.75"/><circle cx="176.2" cy="457.1" r="1.75"/><circle cx="176.2" cy="459.6" r="1.75"/><circle cx="176.2" cy="459.6" r="1.75"/><circle cx="176.2" cy="459.6" r="1.75"/><circle cx="176.2" cy="461.1" r="1.75"/><circle cx="176.2" cy="462.2" r="1.75"/><circle cx="176.2" cy="464.2" r="1.75"/><circle cx="176.2" cy="468.6" r="1.75"/><circle cx="176.2" cy="468.6" r="1.75"/><circle cx="176.2" cy="468.7" r="1.75"/><circle cx="176.2" cy="470.8" r="1.75"/><circle cx="176.2" cy="472.2" r="1.75"/><circle cx="176.2" cy="476.8" r="1.75"/><circle cx="176.2" cy="481.4" r="1.75"/><circle cx="176.2" cy="483.6" r="1.75"/><circle cx="176.2" cy="483.6" r="1.75"/><circle cx="176.2" cy="483.9" r="1.75"/><circle cx="176.2" cy="483.9" r="1.75"/></g>
<path d="M116.55 394.1V506.2H192.2M114.3 506.20H116.55M114.3 483.84H116.55M114.3 461.48H116.55M114.3 439.12H116.55M114.3 416.76H116.55M114.3 394.40H116.55M131.4 506.2v2.0M153.8 506.2v2.0M176.2 506.2v2.0" stroke="#3a3a3a" stroke-width="0.8" fill="none"/>
<text x="111.15" y="508.95" font-size="6.5" font-weight="bold" fill="#000" text-anchor="end" stroke="#000" stroke-width="0.28" stroke-linejoin="round" >10</text>
<text x="111.35" y="506.80" font-size="4.6" font-weight="bold" fill="#000" stroke="#000" stroke-width="0.28" stroke-linejoin="round" >0</text>
<text x="111.15" y="486.59" font-size="6.5" font-weight="bold" fill="#000" text-anchor="end" stroke="#000" stroke-width="0.28" stroke-linejoin="round" >10</text>
<text x="111.35" y="484.44" font-size="4.6" font-weight="bold" fill="#000" stroke="#000" stroke-width="0.28" stroke-linejoin="round" >1</text>
<text x="111.15" y="464.23" font-size="6.5" font-weight="bold" fill="#000" text-anchor="end" stroke="#000" stroke-width="0.28" stroke-linejoin="round" >10</text>
<text x="111.35" y="462.08" font-size="4.6" font-weight="bold" fill="#000" stroke="#000" stroke-width="0.28" stroke-linejoin="round" >2</text>
<text x="111.15" y="441.87" font-size="6.5" font-weight="bold" fill="#000" text-anchor="end" stroke="#000" stroke-width="0.28" stroke-linejoin="round" >10</text>
<text x="111.35" y="439.72" font-size="4.6" font-weight="bold" fill="#000" stroke="#000" stroke-width="0.28" stroke-linejoin="round" >3</text>
<text x="111.15" y="419.51" font-size="6.5" font-weight="bold" fill="#000" text-anchor="end" stroke="#000" stroke-width="0.28" stroke-linejoin="round" >10</text>
<text x="111.35" y="417.36" font-size="4.6" font-weight="bold" fill="#000" stroke="#000" stroke-width="0.28" stroke-linejoin="round" >4</text>
<text x="111.15" y="397.15" font-size="6.5" font-weight="bold" fill="#000" text-anchor="end" stroke="#000" stroke-width="0.28" stroke-linejoin="round" >10</text>
<text x="111.35" y="395.00" font-size="4.6" font-weight="bold" fill="#000" stroke="#000" stroke-width="0.28" stroke-linejoin="round" >5</text>
<text x="100.50" y="509.50" font-size="6.2" font-weight="bold" fill="#000" textLength="106.0" lengthAdjust="spacingAndGlyphs" transform="rotate(-90 100.50 509.50)" stroke="#000" stroke-width="0.28" stroke-linejoin="round" >PVNT50&#160;&#160;(Reciprocal dilution factor)</text>
<text x="133.00" y="512.80" font-size="6.2" font-weight="bold" fill="#000" text-anchor="end" transform="rotate(-45 133.00 512.80)" stroke="#000" stroke-width="0.28" stroke-linejoin="round" >BA.2</text>
<text x="155.40" y="512.80" font-size="6.2" font-weight="bold" fill="#000" text-anchor="end" transform="rotate(-45 155.40 512.80)" stroke="#000" stroke-width="0.28" stroke-linejoin="round" >BA.2.86 V332I</text>
<text x="177.80" y="512.80" font-size="6.2" font-weight="bold" fill="#000" text-anchor="end" transform="rotate(-45 177.80 512.80)" stroke="#000" stroke-width="0.28" stroke-linejoin="round" >BA.2.86</text>
<text x="280.50" y="383.60" font-size="8.6" font-weight="bold" fill="#000" text-anchor="middle" stroke="#000" stroke-width="0.27" stroke-linejoin="round" >BA.2.86 H339G</text>
<path d="M243.3 466.5H317.8" stroke="#b4b4b4" stroke-width="0.6" fill="none"/>
<path d="M258.15 414.3L280.55 446.5L302.95 444.9M258.15 418.9L280.55 446.0L302.95 444.4M258.15 424.3L280.55 434.4L302.95 459.7M258.15 426.6L280.55 449.5L302.95 457.2M258.15 428.5L280.55 453.9L302.95 439.6M258.15 428.5L280.55 460.9L302.95 454.5M258.15 430.5L280.55 455.4L302.95 483.7M258.15 430.7L280.55 458.6L302.95 437.6M258.15 432.8L280.55 458.6L302.95 462.3M258.15 432.8L280.55 463.2L302.95 464.3M258.15 434.9L280.55 457.7L302.95 459.7M258.15 436.9L280.55 464.5L302.95 468.7M258.15 438.5L280.55 464.5L302.95 461.2M258.15 440.5L280.55 461.4L302.95 470.9M258.15 440.5L280.55 467.3L302.95 472.3M258.15 442.5L280.55 484.0L302.95 476.9M258.15 444.4L280.55 467.3L302.95 468.8M258.15 446.3L280.55 484.0L302.95 484.0M258.15 449.9L280.55 470.9L302.95 484.0M258.15 466.4L280.55 484.0L302.95 483.7" stroke="#e2e2e2" stroke-width="0.45" fill="none"/>
<path d="M258.5 408.9V404.1Q258.5 403.5 259.1 403.5H301.9Q302.5 403.5 302.5 404.1V408.9M258.5 412.0V410.5H279.83V432.2M281.27 432.2V410.5H302.5V435.3" stroke="#484848" stroke-width="0.72" fill="none"/>
<g fill="#2a2a2a"><circle cx="277.40" cy="400.90" r="0.85"/><circle cx="279.50" cy="400.90" r="0.85"/><circle cx="281.60" cy="400.90" r="0.85"/><circle cx="283.70" cy="400.90" r="0.85"/></g>
<g fill="#2a2a2a"><circle cx="266.20" cy="407.90" r="0.85"/><circle cx="268.30" cy="407.90" r="0.85"/><circle cx="270.40" cy="407.90" r="0.85"/><circle cx="272.50" cy="407.90" r="0.85"/></g>
<text x="291.75" y="409.00" font-size="3.7" font-weight="normal" fill="#444" text-anchor="middle" >ns</text>
<g fill="#1a12e4"><circle cx="258.15" cy="414.3" r="1.75"/><circle cx="258.15" cy="418.9" r="1.75"/><circle cx="258.15" cy="424.3" r="1.75"/><circle cx="258.15" cy="426.6" r="1.75"/><circle cx="258.15" cy="428.5" r="1.75"/><circle cx="258.15" cy="428.5" r="1.75"/><circle cx="258.15" cy="430.5" r="1.75"/><circle cx="258.15" cy="430.7" r="1.75"/><circle cx="258.15" cy="432.8" r="1.75"/><circle cx="258.15" cy="432.8" r="1.75"/><circle cx="258.15" cy="434.9" r="1.75"/><circle cx="258.15" cy="436.9" r="1.75"/><circle cx="258.15" cy="438.5" r="1.75"/><circle cx="258.15" cy="440.5" r="1.75"/><circle cx="258.15" cy="440.5" r="1.75"/><circle cx="258.15" cy="442.5" r="1.75"/><circle cx="258.15" cy="444.4" r="1.75"/><circle cx="258.15" cy="446.3" r="1.75"/><circle cx="258.15" cy="449.9" r="1.75"/><circle cx="258.15" cy="466.4" r="1.75"/></g>
<g fill="#92199e"><circle cx="280.55" cy="434.4" r="1.75"/><circle cx="280.55" cy="446.0" r="1.75"/><circle cx="280.55" cy="446.5" r="1.75"/><circle cx="280.55" cy="449.5" r="1.75"/><circle cx="280.55" cy="453.9" r="1.75"/><circle cx="280.55" cy="455.4" r="1.75"/><circle cx="280.55" cy="457.7" r="1.75"/><circle cx="280.55" cy="458.6" r="1.75"/><circle cx="280.55" cy="458.6" r="1.75"/><circle cx="280.55" cy="460.9" r="1.75"/><circle cx="280.55" cy="461.4" r="1.75"/><circle cx="280.55" cy="463.2" r="1.75"/><circle cx="280.55" cy="464.5" r="1.75"/><circle cx="280.55" cy="464.5" r="1.75"/><circle cx="280.55" cy="467.3" r="1.75"/><circle cx="280.55" cy="467.3" r="1.75"/><circle cx="280.55" cy="470.9" r="1.75"/><circle cx="280.55" cy="484.0" r="1.75"/><circle cx="280.55" cy="484.0" r="1.75"/><circle cx="280.55" cy="484.0" r="1.75"/></g>
<g fill="#3c9a24"><circle cx="302.95" cy="437.6" r="1.75"/><circle cx="302.95" cy="439.6" r="1.75"/><circle cx="302.95" cy="444.4" r="1.75"/><circle cx="302.95" cy="444.9" r="1.75"/><circle cx="302.95" cy="454.5" r="1.75"/><circle cx="302.95" cy="457.2" r="1.75"/><circle cx="302.95" cy="459.7" r="1.75"/><circle cx="302.95" cy="459.7" r="1.75"/><circle cx="302.95" cy="461.2" r="1.75"/><circle cx="302.95" cy="462.3" r="1.75"/><circle cx="302.95" cy="464.3" r="1.75"/><circle cx="302.95" cy="468.7" r="1.75"/><circle cx="302.95" cy="468.8" r="1.75"/><circle cx="302.95" cy="470.9" r="1.75"/><circle cx="302.95" cy="472.3" r="1.75"/><circle cx="302.95" cy="476.9" r="1.75"/><circle cx="302.95" cy="483.7" r="1.75"/><circle cx="302.95" cy="483.7" r="1.75"/><circle cx="302.95" cy="484.0" r="1.75"/><circle cx="302.95" cy="484.0" r="1.75"/></g>
<path d="M243.3 394.2V506.3H317.8M241.1 506.30H243.3M241.1 483.94H243.3M241.1 461.58H243.3M241.1 439.22H243.3M241.1 416.86H243.3M241.1 394.50H243.3M258.15 506.3v2.0M280.55 506.3v2.0M302.95 506.3v2.0" stroke="#3a3a3a" stroke-width="0.8" fill="none"/>
<text x="237.90" y="509.05" font-size="6.5" font-weight="bold" fill="#000" text-anchor="end" stroke="#000" stroke-width="0.28" stroke-linejoin="round" >10</text>
<text x="238.10" y="506.90" font-size="4.6" font-weight="bold" fill="#000" stroke="#000" stroke-width="0.28" stroke-linejoin="round" >0</text>
<text x="237.90" y="486.69" font-size="6.5" font-weight="bold" fill="#000" text-anchor="end" stroke="#000" stroke-width="0.28" stroke-linejoin="round" >10</text>
<text x="238.10" y="484.54" font-size="4.6" font-weight="bold" fill="#000" stroke="#000" stroke-width="0.28" stroke-linejoin="round" >1</text>
<text x="237.90" y="464.33" font-size="6.5" font-weight="bold" fill="#000" text-anchor="end" stroke="#000" stroke-width="0.28" stroke-linejoin="round" >10</text>
<text x="238.10" y="462.18" font-size="4.6" font-weight="bold" fill="#000" stroke="#000" stroke-width="0.28" stroke-linejoin="round" >2</text>
<text x="237.90" y="441.97" font-size="6.5" font-weight="bold" fill="#000" text-anchor="end" stroke="#000" stroke-width="0.28" stroke-linejoin="round" >10</text>
<text x="238.10" y="439.82" font-size="4.6" font-weight="bold" fill="#000" stroke="#000" stroke-width="0.28" stroke-linejoin="round" >3</text>
<text x="237.90" y="419.61" font-size="6.5" font-weight="bold" fill="#000" text-anchor="end" stroke="#000" stroke-width="0.28" stroke-linejoin="round" >10</text>
<text x="238.10" y="417.46" font-size="4.6" font-weight="bold" fill="#000" stroke="#000" stroke-width="0.28" stroke-linejoin="round" >4</text>
<text x="237.90" y="397.25" font-size="6.5" font-weight="bold" fill="#000" text-anchor="end" stroke="#000" stroke-width="0.28" stroke-linejoin="round" >10</text>
<text x="238.10" y="395.10" font-size="4.6" font-weight="bold" fill="#000" stroke="#000" stroke-width="0.28" stroke-linejoin="round" >5</text>
<text x="223.10" y="509.60" font-size="6.2" font-weight="bold" fill="#000" textLength="106.0" lengthAdjust="spacingAndGlyphs" transform="rotate(-90 223.10 509.60)" stroke="#000" stroke-width="0.28" stroke-linejoin="round" >PVNT50&#160;&#160;(Reciprocal dilution factor)</text>
<text x="259.75" y="512.90" font-size="6.2" font-weight="bold" fill="#000" text-anchor="end" transform="rotate(-45 259.75 512.90)" stroke="#000" stroke-width="0.28" stroke-linejoin="round" >BA.2</text>
<text x="282.15" y="512.90" font-size="6.2" font-weight="bold" fill="#000" text-anchor="end" transform="rotate(-45 282.15 512.90)" stroke="#000" stroke-width="0.28" stroke-linejoin="round" >BA.2.86 H339G</text>
<text x="304.55" y="512.90" font-size="6.2" font-weight="bold" fill="#000" text-anchor="end" transform="rotate(-45 304.55 512.90)" stroke="#000" stroke-width="0.28" stroke-linejoin="round" >BA.2.86</text>
<text x="407.60" y="383.80" font-size="8.6" font-weight="bold" fill="#000" text-anchor="middle" stroke="#000" stroke-width="0.27" stroke-linejoin="round" >BA.2.86 T356K</text>
<path d="M370.1 466.5H445.5" stroke="#b4b4b4" stroke-width="0.6" fill="none"/>
<path d="M384.95 414.2L407.35 417.6L429.75 444.3M384.95 418.8L407.35 441.0L429.75 439.5M384.95 424.2L407.35 427.3L429.75 459.6M384.95 426.5L407.35 447.7L429.75 462.2M384.95 428.4L407.35 443.4L429.75 444.8M384.95 428.4L407.35 433.4L429.75 454.4M384.95 430.4L407.35 446.6L429.75 457.1M384.95 430.6L407.35 453.0L429.75 464.2M384.95 432.7L407.35 449.8L429.75 437.5M384.95 432.7L407.35 454.4L429.75 459.6M384.95 434.8L407.35 448.0L429.75 468.6M384.95 436.8L407.35 456.7L429.75 461.1M384.95 438.4L407.35 458.1L429.75 476.8M384.95 440.4L407.35 456.5L429.75 472.2M384.95 440.4L407.35 460.8L429.75 483.6M384.95 442.4L407.35 472.0L429.75 483.9M384.95 444.3L407.35 457.1L429.75 470.8M384.95 446.2L407.35 466.7L429.75 468.7M384.95 449.8L407.35 466.7L429.75 483.6M384.95 466.3L407.35 472.4L429.75 483.9" stroke="#e2e2e2" stroke-width="0.45" fill="none"/>
<path d="M384.5 408.9V404.1Q384.5 403.5 385.1 403.5H428.9Q429.5 403.5 429.5 404.1V408.9M384.5 411.9V410.5H406.63V415.4M408.07 415.4V410.5H429.5V435.2" stroke="#484848" stroke-width="0.72" fill="none"/>
<g fill="#2a2a2a"><circle cx="404.20" cy="400.90" r="0.85"/><circle cx="406.30" cy="400.90" r="0.85"/><circle cx="408.40" cy="400.90" r="0.85"/><circle cx="410.50" cy="400.90" r="0.85"/></g>
<g fill="#2a2a2a"><circle cx="395.10" cy="407.90" r="0.85"/><circle cx="397.20" cy="407.90" r="0.85"/></g>
<g fill="#2a2a2a"><circle cx="418.55" cy="407.90" r="0.85"/></g>
<g fill="#1a12e4"><circle cx="384.95" cy="414.2" r="1.75"/><circle cx="384.95" cy="418.8" r="1.75"/><circle cx="384.95" cy="424.2" r="1.75"/><circle cx="384.95" cy="426.5" r="1.75"/><circle cx="384.95" cy="428.4" r="1.75"/><circle cx="384.95" cy="428.4" r="1.75"/><circle cx="384.95" cy="430.4" r="1.75"/><circle cx="384.95" cy="430.6" r="1.75"/><circle cx="384.95" cy="432.7" r="1.75"/><circle cx="384.95" cy="432.7" r="1.75"/><circle cx="384.95" cy="434.8" r="1.75"/><circle cx="384.95" cy="436.8" r="1.75"/><circle cx="384.95" cy="438.4" r="1.75"/><circle cx="384.95" cy="440.4" r="1.75"/><circle cx="384.95" cy="440.4" r="1.75"/><circle cx="384.95" cy="442.4" r="1.75"/><circle cx="384.95" cy="444.3" r="1.75"/><circle cx="384.95" cy="446.2" r="1.75"/><circle cx="384.95" cy="449.8" r="1.75"/><circle cx="384.95" cy="466.3" r="1.75"/></g>
<g fill="#92199e"><circle cx="407.35" cy="417.6" r="1.75"/><circle cx="407.35" cy="427.3" r="1.75"/><circle cx="407.35" cy="433.4" r="1.75"/><circle cx="407.35" cy="441.0" r="1.75"/><circle cx="407.35" cy="443.4" r="1.75"/><circle cx="407.35" cy="446.6" r="1.75"/><circle cx="407.35" cy="447.7" r="1.75"/><circle cx="407.35" cy="448.0" r="1.75"/><circle cx="407.35" cy="449.8" r="1.75"/><circle cx="407.35" cy="453.0" r="1.75"/><circle cx="407.35" cy="454.4" r="1.75"/><circle cx="407.35" cy="456.5" r="1.75"/><circle cx="407.35" cy="456.7" r="1.75"/><circle cx="407.35" cy="457.1" r="1.75"/><circle cx="407.35" cy="458.1" r="1.75"/><circle cx="407.35" cy="460.8" r="1.75"/><circle cx="407.35" cy="466.7" r="1.75"/><circle cx="407.35" cy="466.7" r="1.75"/><circle cx="407.35" cy="472.0" r="1.75"/><circle cx="407.35" cy="472.4" r="1.75"/></g>
<g fill="#3c9a24"><circle cx="429.75" cy="437.5" r="1.75"/><circle cx="429.75" cy="439.5" r="1.75"/><circle cx="429.75" cy="444.3" r="1.75"/><circle cx="429.75" cy="444.8" r="1.75"/><circle cx="429.75" cy="454.4" r="1.75"/><circle cx="429.75" cy="457.1" r="1.75"/><circle cx="429.75" cy="459.6" r="1.75"/><circle cx="429.75" cy="459.6" r="1.75"/><circle cx="429.75" cy="461.1" r="1.75"/><circle cx="429.75" cy="462.2" r="1.75"/><circle cx="429.75" cy="464.2" r="1.75"/><circle cx="429.75" cy="468.6" r="1.75"/><circle cx="429.75" cy="468.7" r="1.75"/><circle cx="429.75" cy="470.8" r="1.75"/><circle cx="429.75" cy="472.2" r="1.75"/><circle cx="429.75" cy="476.8" r="1.75"/><circle cx="429.75" cy="483.6" r="1.75"/><circle cx="429.75" cy="483.6" r="1.75"/><circle cx="429.75" cy="483.9" r="1.75"/><circle cx="429.75" cy="483.9" r="1.75"/></g>
<path d="M370.1 394.1V506.2H445.5M367.9 506.20H370.1M367.9 483.84H370.1M367.9 461.48H370.1M367.9 439.12H370.1M367.9 416.76H370.1M367.9 394.40H370.1M384.95 506.2v2.0M407.35 506.2v2.0M429.75 506.2v2.0" stroke="#3a3a3a" stroke-width="0.8" fill="none"/>
<text x="364.70" y="508.95" font-size="6.5" font-weight="bold" fill="#000" text-anchor="end" stroke="#000" stroke-width="0.28" stroke-linejoin="round" >10</text>
<text x="364.90" y="506.80" font-size="4.6" font-weight="bold" fill="#000" stroke="#000" stroke-width="0.28" stroke-linejoin="round" >0</text>
<text x="364.70" y="486.59" font-size="6.5" font-weight="bold" fill="#000" text-anchor="end" stroke="#000" stroke-width="0.28" stroke-linejoin="round" >10</text>
<text x="364.90" y="484.44" font-size="4.6" font-weight="bold" fill="#000" stroke="#000" stroke-width="0.28" stroke-linejoin="round" >1</text>
<text x="364.70" y="464.23" font-size="6.5" font-weight="bold" fill="#000" text-anchor="end" stroke="#000" stroke-width="0.28" stroke-linejoin="round" >10</text>
<text x="364.90" y="462.08" font-size="4.6" font-weight="bold" fill="#000" stroke="#000" stroke-width="0.28" stroke-linejoin="round" >2</text>
<text x="364.70" y="441.87" font-size="6.5" font-weight="bold" fill="#000" text-anchor="end" stroke="#000" stroke-width="0.28" stroke-linejoin="round" >10</text>
<text x="364.90" y="439.72" font-size="4.6" font-weight="bold" fill="#000" stroke="#000" stroke-width="0.28" stroke-linejoin="round" >3</text>
<text x="364.70" y="419.51" font-size="6.5" font-weight="bold" fill="#000" text-anchor="end" stroke="#000" stroke-width="0.28" stroke-linejoin="round" >10</text>
<text x="364.90" y="417.36" font-size="4.6" font-weight="bold" fill="#000" stroke="#000" stroke-width="0.28" stroke-linejoin="round" >4</text>
<text x="364.70" y="397.15" font-size="6.5" font-weight="bold" fill="#000" text-anchor="end" stroke="#000" stroke-width="0.28" stroke-linejoin="round" >10</text>
<text x="364.90" y="395.00" font-size="4.6" font-weight="bold" fill="#000" stroke="#000" stroke-width="0.28" stroke-linejoin="round" >5</text>
<text x="351.60" y="509.50" font-size="6.2" font-weight="bold" fill="#000" textLength="106.0" lengthAdjust="spacingAndGlyphs" transform="rotate(-90 351.60 509.50)" stroke="#000" stroke-width="0.28" stroke-linejoin="round" >PVNT50&#160;&#160;(Reciprocal dilution factor)</text>
<text x="386.55" y="512.80" font-size="6.2" font-weight="bold" fill="#000" text-anchor="end" transform="rotate(-45 386.55 512.80)" stroke="#000" stroke-width="0.28" stroke-linejoin="round" >BA.2</text>
<text x="408.95" y="512.80" font-size="6.2" font-weight="bold" fill="#000" text-anchor="end" transform="rotate(-45 408.95 512.80)" stroke="#000" stroke-width="0.28" stroke-linejoin="round" >BA.2.86 T356K</text>
<text x="431.35" y="512.80" font-size="6.2" font-weight="bold" fill="#000" text-anchor="end" transform="rotate(-45 431.35 512.80)" stroke="#000" stroke-width="0.28" stroke-linejoin="round" >BA.2.86</text>
<text x="525.70" y="383.80" font-size="8.6" font-weight="bold" fill="#000" text-anchor="middle" stroke="#000" stroke-width="0.27" stroke-linejoin="round" >BA.2.86 K403R</text>
<path d="M488.5 466.5H563.5" stroke="#b4b4b4" stroke-width="0.6" fill="none"/>
<path d="M503.35 414.2L525.75 440.2L548.15 461.1M503.35 418.8L525.75 429.7L548.15 439.5M503.35 424.2L525.75 448.5L548.15 454.4M503.35 426.5L525.75 450.1L548.15 437.5M503.35 428.4L525.75 461.7L548.15 468.6M503.35 428.4L525.75 455.3L548.15 457.1M503.35 430.4L525.75 461.7L548.15 459.6M503.35 430.6L525.75 471.8L548.15 444.8M503.35 432.7L525.75 466.7L548.15 483.6M503.35 432.7L525.75 454.9L548.15 462.2M503.35 434.8L525.75 469.0L548.15 459.6M503.35 436.8L525.75 475.0L548.15 468.7M503.35 438.4L525.75 466.7L548.15 483.6M503.35 440.4L525.75 469.0L548.15 483.9M503.35 440.4L525.75 476.8L548.15 464.2M503.35 442.4L525.75 471.8L548.15 444.3M503.35 444.3L525.75 483.9L548.15 470.8M503.35 446.2L525.75 478.8L548.15 472.2M503.35 449.8L525.75 483.9L548.15 483.9M503.35 466.3L525.75 483.9L548.15 476.8" stroke="#e2e2e2" stroke-width="0.45" fill="none"/>
<path d="M503.5 408.9V404.1Q503.5 403.5 504.1 403.5H547.9Q548.5 403.5 548.5 404.1V408.9M503.5 411.9V410.5H525.03V427.5M526.47 427.5V410.5H548.5V435.2" stroke="#484848" stroke-width="0.72" fill="none"/>
<g fill="#2a2a2a"><circle cx="522.60" cy="400.90" r="0.85"/><circle cx="524.70" cy="400.90" r="0.85"/><circle cx="526.80" cy="400.90" r="0.85"/><circle cx="528.90" cy="400.90" r="0.85"/></g>
<g fill="#2a2a2a"><circle cx="511.40" cy="407.90" r="0.85"/><circle cx="513.50" cy="407.90" r="0.85"/><circle cx="515.60" cy="407.90" r="0.85"/><circle cx="517.70" cy="407.90" r="0.85"/></g>
<text x="536.95" y="409.00" font-size="3.7" font-weight="normal" fill="#444" text-anchor="middle" >ns</text>
<g fill="#1a12e4"><circle cx="503.35" cy="414.2" r="1.75"/><circle cx="503.35" cy="418.8" r="1.75"/><circle cx="503.35" cy="424.2" r="1.75"/><circle cx="503.35" cy="426.5" r="1.75"/><circle cx="503.35" cy="428.4" r="1.75"/><circle cx="503.35" cy="428.4" r="1.75"/><circle cx="503.35" cy="430.4" r="1.75"/><circle cx="503.35" cy="430.6" r="1.75"/><circle cx="503.35" cy="432.7" r="1.75"/><circle cx="503.35" cy="432.7" r="1.75"/><circle cx="503.35" cy="434.8" r="1.75"/><circle cx="503.35" cy="436.8" r="1.75"/><circle cx="503.35" cy="438.4" r="1.75"/><circle cx="503.35" cy="440.4" r="1.75"/><circle cx="503.35" cy="440.4" r="1.75"/><circle cx="503.35" cy="442.4" r="1.75"/><circle cx="503.35" cy="444.3" r="1.75"/><circle cx="503.35" cy="446.2" r="1.75"/><circle cx="503.35" cy="449.8" r="1.75"/><circle cx="503.35" cy="466.3" r="1.75"/></g>
<g fill="#92199e"><circle cx="525.75" cy="429.7" r="1.75"/><circle cx="525.75" cy="440.2" r="1.75"/><circle cx="525.75" cy="448.5" r="1.75"/><circle cx="525.75" cy="450.1" r="1.75"/><circle cx="525.75" cy="454.9" r="1.75"/><circle cx="525.75" cy="455.3" r="1.75"/><circle cx="525.75" cy="461.7" r="1.75"/><circle cx="525.75" cy="461.7" r="1.75"/><circle cx="525.75" cy="466.7" r="1.75"/><circle cx="525.75" cy="466.7" r="1.75"/><circle cx="525.75" cy="469.0" r="1.75"/><circle cx="525.75" cy="469.0" r="1.75"/><circle cx="525.75" cy="471.8" r="1.75"/><circle cx="525.75" cy="471.8" r="1.75"/><circle cx="525.75" cy="475.0" r="1.75"/><circle cx="525.75" cy="476.8" r="1.75"/><circle cx="525.75" cy="478.8" r="1.75"/><circle cx="525.75" cy="483.9" r="1.75"/><circle cx="525.75" cy="483.9" r="1.75"/><circle cx="525.75" cy="483.9" r="1.75"/></g>
<g fill="#3c9a24"><circle cx="548.15" cy="437.5" r="1.75"/><circle cx="548.15" cy="439.5" r="1.75"/><circle cx="548.15" cy="444.3" r="1.75"/><circle cx="548.15" cy="444.8" r="1.75"/><circle cx="548.15" cy="454.4" r="1.75"/><circle cx="548.15" cy="457.1" r="1.75"/><circle cx="548.15" cy="459.6" r="1.75"/><circle cx="548.15" cy="459.6" r="1.75"/><circle cx="548.15" cy="461.1" r="1.75"/><circle cx="548.15" cy="462.2" r="1.75"/><circle cx="548.15" cy="464.2" r="1.75"/><circle cx="548.15" cy="468.6" r="1.75"/><circle cx="548.15" cy="468.7" r="1.75"/><circle cx="548.15" cy="470.8" r="1.75"/><circle cx="548.15" cy="472.2" r="1.75"/><circle cx="548.15" cy="476.8" r="1.75"/><circle cx="548.15" cy="483.6" r="1.75"/><circle cx="548.15" cy="483.6" r="1.75"/><circle cx="548.15" cy="483.9" r="1.75"/><circle cx="548.15" cy="483.9" r="1.75"/></g>
<path d="M488.5 394.1V506.2H563.5M486.3 506.20H488.5M486.3 483.84H488.5M486.3 461.48H488.5M486.3 439.12H488.5M486.3 416.76H488.5M486.3 394.40H488.5M503.35 506.2v2.0M525.75 506.2v2.0M548.15 506.2v2.0" stroke="#3a3a3a" stroke-width="0.8" fill="none"/>
<text x="483.10" y="508.95" font-size="6.5" font-weight="bold" fill="#000" text-anchor="end" stroke="#000" stroke-width="0.28" stroke-linejoin="round" >10</text>
<text x="483.30" y="506.80" font-size="4.6" font-weight="bold" fill="#000" stroke="#000" stroke-width="0.28" stroke-linejoin="round" >0</text>
<text x="483.10" y="486.59" font-size="6.5" font-weight="bold" fill="#000" text-anchor="end" stroke="#000" stroke-width="0.28" stroke-linejoin="round" >10</text>
<text x="483.30" y="484.44" font-size="4.6" font-weight="bold" fill="#000" stroke="#000" stroke-width="0.28" stroke-linejoin="round" >1</text>
<text x="483.10" y="464.23" font-size="6.5" font-weight="bold" fill="#000" text-anchor="end" stroke="#000" stroke-width="0.28" stroke-linejoin="round" >10</text>
<text x="483.30" y="462.08" font-size="4.6" font-weight="bold" fill="#000" stroke="#000" stroke-width="0.28" stroke-linejoin="round" >2</text>
<text x="483.10" y="441.87" font-size="6.5" font-weight="bold" fill="#000" text-anchor="end" stroke="#000" stroke-width="0.28" stroke-linejoin="round" >10</text>
<text x="483.30" y="439.72" font-size="4.6" font-weight="bold" fill="#000" stroke="#000" stroke-width="0.28" stroke-linejoin="round" >3</text>
<text x="483.10" y="419.51" font-size="6.5" font-weight="bold" fill="#000" text-anchor="end" stroke="#000" stroke-width="0.28" stroke-linejoin="round" >10</text>
<text x="483.30" y="417.36" font-size="4.6" font-weight="bold" fill="#000" stroke="#000" stroke-width="0.28" stroke-linejoin="round" >4</text>
<text x="483.10" y="397.15" font-size="6.5" font-weight="bold" fill="#000" text-anchor="end" stroke="#000" stroke-width="0.28" stroke-linejoin="round" >10</text>
<text x="483.30" y="395.00" font-size="4.6" font-weight="bold" fill="#000" stroke="#000" stroke-width="0.28" stroke-linejoin="round" >5</text>
<text x="468.40" y="509.50" font-size="6.2" font-weight="bold" fill="#000" textLength="106.0" lengthAdjust="spacingAndGlyphs" transform="rotate(-90 468.40 509.50)" stroke="#000" stroke-width="0.28" stroke-linejoin="round" >PVNT50&#160;&#160;(Reciprocal dilution factor)</text>
<text x="504.95" y="512.80" font-size="6.2" font-weight="bold" fill="#000" text-anchor="end" transform="rotate(-45 504.95 512.80)" stroke="#000" stroke-width="0.28" stroke-linejoin="round" >BA.2</text>
<text x="527.35" y="512.80" font-size="6.2" font-weight="bold" fill="#000" text-anchor="end" transform="rotate(-45 527.35 512.80)" stroke="#000" stroke-width="0.28" stroke-linejoin="round" >BA2.86 K403R</text>
<text x="549.75" y="512.80" font-size="6.2" font-weight="bold" fill="#000" text-anchor="end" transform="rotate(-45 549.75 512.80)" stroke="#000" stroke-width="0.28" stroke-linejoin="round" >BA.2.86</text>
<text x="646.30" y="383.80" font-size="8.6" font-weight="bold" fill="#000" text-anchor="middle" stroke="#000" stroke-width="0.27" stroke-linejoin="round" >BA.2.86 H445V</text>
<path d="M609.0 466.5H685.0" stroke="#b4b4b4" stroke-width="0.6" fill="none"/>
<path d="M623.85 414.2L646.25 438.2L668.65 454.4M623.85 418.8L646.25 450.5L668.65 457.1M623.85 424.2L646.25 457.6L668.65 462.2M623.85 426.5L646.25 437.0L668.65 437.5M623.85 428.4L646.25 440.2L668.65 459.6M623.85 428.4L646.25 451.2L668.65 461.1M623.85 430.4L646.25 458.5L668.65 444.3M623.85 430.6L646.25 461.3L668.65 439.5M623.85 432.7L646.25 464.0L668.65 444.8M623.85 432.7L646.25 460.8L668.65 470.8M623.85 434.8L646.25 466.7L668.65 476.8M623.85 436.8L646.25 466.7L668.65 459.6M623.85 438.4L646.25 464.0L668.65 483.9M623.85 440.4L646.25 483.9L668.65 472.2M623.85 440.4L646.25 472.9L668.65 468.6M623.85 442.4L646.25 469.5L668.65 464.2M623.85 444.3L646.25 466.7L668.65 483.6M623.85 446.2L646.25 483.9L668.65 468.7M623.85 449.8L646.25 483.9L668.65 483.6M623.85 466.3L646.25 476.5L668.65 483.9" stroke="#e2e2e2" stroke-width="0.45" fill="none"/>
<path d="M623.5 408.9V404.1Q623.5 403.5 624.1 403.5H667.9Q668.5 403.5 668.5 404.1V408.9M623.5 411.9V410.5H645.53V434.8M646.97 434.8V410.5H668.5V435.2" stroke="#484848" stroke-width="0.72" fill="none"/>
<g fill="#2a2a2a"><circle cx="643.10" cy="400.90" r="0.85"/><circle cx="645.20" cy="400.90" r="0.85"/><circle cx="647.30" cy="400.90" r="0.85"/><circle cx="649.40" cy="400.90" r="0.85"/></g>
<g fill="#2a2a2a"><circle cx="631.90" cy="407.90" r="0.85"/><circle cx="634.00" cy="407.90" r="0.85"/><circle cx="636.10" cy="407.90" r="0.85"/><circle cx="638.20" cy="407.90" r="0.85"/></g>
<text x="657.45" y="409.00" font-size="3.7" font-weight="normal" fill="#444" text-anchor="middle" >ns</text>
<g fill="#1a12e4"><circle cx="623.85" cy="414.2" r="1.75"/><circle cx="623.85" cy="418.8" r="1.75"/><circle cx="623.85" cy="424.2" r="1.75"/><circle cx="623.85" cy="426.5" r="1.75"/><circle cx="623.85" cy="428.4" r="1.75"/><circle cx="623.85" cy="428.4" r="1.75"/><circle cx="623.85" cy="430.4" r="1.75"/><circle cx="623.85" cy="430.6" r="1.75"/><circle cx="623.85" cy="432.7" r="1.75"/><circle cx="623.85" cy="432.7" r="1.75"/><circle cx="623.85" cy="434.8" r="1.75"/><circle cx="623.85" cy="436.8" r="1.75"/><circle cx="623.85" cy="438.4" r="1.75"/><circle cx="623.85" cy="440.4" r="1.75"/><circle cx="623.85" cy="440.4" r="1.75"/><circle cx="623.85" cy="442.4" r="1.75"/><circle cx="623.85" cy="444.3" r="1.75"/><circle cx="623.85" cy="446.2" r="1.75"/><circle cx="623.85" cy="449.8" r="1.75"/><circle cx="623.85" cy="466.3" r="1.75"/></g>
<g fill="#92199e"><circle cx="646.25" cy="437.0" r="1.75"/><circle cx="646.25" cy="438.2" r="1.75"/><circle cx="646.25" cy="440.2" r="1.75"/><circle cx="646.25" cy="450.5" r="1.75"/><circle cx="646.25" cy="451.2" r="1.75"/><circle cx="646.25" cy="457.6" r="1.75"/><circle cx="646.25" cy="458.5" r="1.75"/><circle cx="646.25" cy="460.8" r="1.75"/><circle cx="646.25" cy="461.3" r="1.75"/><circle cx="646.25" cy="464.0" r="1.75"/><circle cx="646.25" cy="464.0" r="1.75"/><circle cx="646.25" cy="466.7" r="1.75"/><circle cx="646.25" cy="466.7" r="1.75"/><circle cx="646.25" cy="466.7" r="1.75"/><circle cx="646.25" cy="469.5" r="1.75"/><circle cx="646.25" cy="472.9" r="1.75"/><circle cx="646.25" cy="476.5" r="1.75"/><circle cx="646.25" cy="483.9" r="1.75"/><circle cx="646.25" cy="483.9" r="1.75"/><circle cx="646.25" cy="483.9" r="1.75"/></g>
<g fill="#3c9a24"><circle cx="668.65" cy="437.5" r="1.75"/><circle cx="668.65" cy="439.5" r="1.75"/><circle cx="668.65" cy="444.3" r="1.75"/><circle cx="668.65" cy="444.8" r="1.75"/><circle cx="668.65" cy="454.4" r="1.75"/><circle cx="668.65" cy="457.1" r="1.75"/><circle cx="668.65" cy="459.6" r="1.75"/><circle cx="668.65" cy="459.6" r="1.75"/><circle cx="668.65" cy="461.1" r="1.75"/><circle cx="668.65" cy="462.2" r="1.75"/><circle cx="668.65" cy="464.2" r="1.75"/><circle cx="668.65" cy="468.6" r="1.75"/><circle cx="668.65" cy="468.7" r="1.75"/><circle cx="668.65" cy="470.8" r="1.75"/><circle cx="668.65" cy="472.2" r="1.75"/><circle cx="668.65" cy="476.8" r="1.75"/><circle cx="668.65" cy="483.6" r="1.75"/><circle cx="668.65" cy="483.6" r="1.75"/><circle cx="668.65" cy="483.9" r="1.75"/><circle cx="668.65" cy="483.9" r="1.75"/></g>
<path d="M609.0 394.1V506.2H685.0M606.8 506.20H609.0M606.8 483.84H609.0M606.8 461.48H609.0M606.8 439.12H609.0M606.8 416.76H609.0M606.8 394.40H609.0M623.85 506.2v2.0M646.25 506.2v2.0M668.65 506.2v2.0" stroke="#3a3a3a" stroke-width="0.8" fill="none"/>
<text x="603.60" y="508.95" font-size="6.5" font-weight="bold" fill="#000" text-anchor="end" stroke="#000" stroke-width="0.28" stroke-linejoin="round" >10</text>
<text x="603.80" y="506.80" font-size="4.6" font-weight="bold" fill="#000" stroke="#000" stroke-width="0.28" stroke-linejoin="round" >0</text>
<text x="603.60" y="486.59" font-size="6.5" font-weight="bold" fill="#000" text-anchor="end" stroke="#000" stroke-width="0.28" stroke-linejoin="round" >10</text>
<text x="603.80" y="484.44" font-size="4.6" font-weight="bold" fill="#000" stroke="#000" stroke-width="0.28" stroke-linejoin="round" >1</text>
<text x="603.60" y="464.23" font-size="6.5" font-weight="bold" fill="#000" text-anchor="end" stroke="#000" stroke-width="0.28" stroke-linejoin="round" >10</text>
<text x="603.80" y="462.08" font-size="4.6" font-weight="bold" fill="#000" stroke="#000" stroke-width="0.28" stroke-linejoin="round" >2</text>
<text x="603.60" y="441.87" font-size="6.5" font-weight="bold" fill="#000" text-anchor="end" stroke="#000" stroke-width="0.28" stroke-linejoin="round" >10</text>
<text x="603.80" y="439.72" font-size="4.6" font-weight="bold" fill="#000" stroke="#000" stroke-width="0.28" stroke-linejoin="round" >3</text>
<text x="603.60" y="419.51" font-size="6.5" font-weight="bold" fill="#000" text-anchor="end" stroke="#000" stroke-width="0.28" stroke-linejoin="round" >10</text>
<text x="603.80" y="417.36" font-size="4.6" font-weight="bold" fill="#000" stroke="#000" stroke-width="0.28" stroke-linejoin="round" >4</text>
<text x="603.60" y="397.15" font-size="6.5" font-weight="bold" fill="#000" text-anchor="end" stroke="#000" stroke-width="0.28" stroke-linejoin="round" >10</text>
<text x="603.80" y="395.00" font-size="4.6" font-weight="bold" fill="#000" stroke="#000" stroke-width="0.28" stroke-linejoin="round" >5</text>
<text x="588.40" y="509.50" font-size="6.2" font-weight="bold" fill="#000" textLength="106.0" lengthAdjust="spacingAndGlyphs" transform="rotate(-90 588.40 509.50)" stroke="#000" stroke-width="0.28" stroke-linejoin="round" >PVNT50&#160;&#160;(Reciprocal dilution factor)</text>
<text x="625.45" y="512.80" font-size="6.2" font-weight="bold" fill="#000" text-anchor="end" transform="rotate(-45 625.45 512.80)" stroke="#000" stroke-width="0.28" stroke-linejoin="round" >BA.2</text>
<text x="647.85" y="512.80" font-size="6.2" font-weight="bold" fill="#000" text-anchor="end" transform="rotate(-45 647.85 512.80)" stroke="#000" stroke-width="0.28" stroke-linejoin="round" >BA.2.86 H445V</text>
<text x="670.25" y="512.80" font-size="6.2" font-weight="bold" fill="#000" text-anchor="end" transform="rotate(-45 670.25 512.80)" stroke="#000" stroke-width="0.28" stroke-linejoin="round" >BA.2.86</text>
<text x="158.00" y="586.00" font-size="8.59" font-weight="bold" fill="#000" text-anchor="middle" stroke="#000" stroke-width="0.27" stroke-linejoin="round" >BA.2.86 S446G</text>
<path d="M120.6 668.5H195.6" stroke="#b4b4b4" stroke-width="0.6" fill="none"/>
<path d="M135.44 620.9L157.82 641.3L180.2 659.3M135.44 626.4L157.82 636.5L180.2 661.7M135.44 628.7L157.82 636.5L180.2 639.7M135.44 630.5L157.82 657.9L180.2 656.5M135.44 630.5L157.82 657.0L180.2 643.1M135.44 632.8L157.82 672.5L180.2 661.7M135.44 634.9L157.82 644.9L180.2 670.7M135.44 634.9L157.82 660.5L180.2 666.3M135.44 636.9L157.82 662.0L180.2 673.0M135.44 638.9L157.82 668.9L180.2 647.0M135.44 640.6L157.82 686.0L180.2 664.3M135.44 642.6L157.82 686.0L180.2 678.9M135.44 644.6L157.82 677.4L180.2 685.8M135.44 646.5L157.82 686.0L180.2 674.3M135.44 646.5L157.82 686.0L180.2 685.8M135.44 652.0L157.82 686.0L180.2 686.0" stroke="#e2e2e2" stroke-width="0.45" fill="none"/>
<path d="M135.5 614.9V610.1Q135.5 609.5 136.1 609.5H179.9Q180.5 609.5 180.5 610.1V614.9M135.5 618.6V616.5H157.1V634.3M158.54 634.3V616.5H180.5V637.4" stroke="#484848" stroke-width="0.72" fill="none"/>
<g fill="#2a2a2a"><circle cx="155.72" cy="606.90" r="0.85"/><circle cx="157.82" cy="606.90" r="0.85"/><circle cx="159.92" cy="606.90" r="0.85"/></g>
<g fill="#2a2a2a"><circle cx="143.48" cy="613.90" r="0.85"/><circle cx="145.58" cy="613.90" r="0.85"/><circle cx="147.68" cy="613.90" r="0.85"/><circle cx="149.78" cy="613.90" r="0.85"/></g>
<text x="169.01" y="615.00" font-size="3.7" font-weight="normal" fill="#444" text-anchor="middle" >ns</text>
<g fill="#1a12e4"><circle cx="135.44" cy="620.9" r="1.75"/><circle cx="135.44" cy="626.4" r="1.75"/><circle cx="135.44" cy="628.7" r="1.75"/><circle cx="135.44" cy="630.5" r="1.75"/><circle cx="135.44" cy="630.5" r="1.75"/><circle cx="135.44" cy="632.8" r="1.75"/><circle cx="135.44" cy="634.9" r="1.75"/><circle cx="135.44" cy="634.9" r="1.75"/><circle cx="135.44" cy="636.9" r="1.75"/><circle cx="135.44" cy="638.9" r="1.75"/><circle cx="135.44" cy="640.6" r="1.75"/><circle cx="135.44" cy="642.6" r="1.75"/><circle cx="135.44" cy="644.6" r="1.75"/><circle cx="135.44" cy="646.5" r="1.75"/><circle cx="135.44" cy="646.5" r="1.75"/><circle cx="135.44" cy="652.0" r="1.75"/></g>
<g fill="#92199e"><circle cx="157.82" cy="636.5" r="1.75"/><circle cx="157.82" cy="636.5" r="1.75"/><circle cx="157.82" cy="641.3" r="1.75"/><circle cx="157.82" cy="644.9" r="1.75"/><circle cx="157.82" cy="657.0" r="1.75"/><circle cx="157.82" cy="657.9" r="1.75"/><circle cx="157.82" cy="660.5" r="1.75"/><circle cx="157.82" cy="662.0" r="1.75"/><circle cx="157.82" cy="668.9" r="1.75"/><circle cx="157.82" cy="672.5" r="1.75"/><circle cx="157.82" cy="677.4" r="1.75"/><circle cx="157.82" cy="686.0" r="1.75"/><circle cx="157.82" cy="686.0" r="1.75"/><circle cx="157.82" cy="686.0" r="1.75"/><circle cx="157.82" cy="686.0" r="1.75"/><circle cx="157.82" cy="686.0" r="1.75"/></g>
<g fill="#3c9a24"><circle cx="180.2" cy="639.7" r="1.75"/><circle cx="180.2" cy="643.1" r="1.75"/><circle cx="180.2" cy="647.0" r="1.75"/><circle cx="180.2" cy="656.5" r="1.75"/><circle cx="180.2" cy="659.3" r="1.75"/><circle cx="180.2" cy="661.7" r="1.75"/><circle cx="180.2" cy="661.7" r="1.75"/><circle cx="180.2" cy="664.3" r="1.75"/><circle cx="180.2" cy="666.3" r="1.75"/><circle cx="180.2" cy="670.7" r="1.75"/><circle cx="180.2" cy="673.0" r="1.75"/><circle cx="180.2" cy="674.3" r="1.75"/><circle cx="180.2" cy="678.9" r="1.75"/><circle cx="180.2" cy="685.8" r="1.75"/><circle cx="180.2" cy="685.8" r="1.75"/><circle cx="180.2" cy="686.0" r="1.75"/></g>
<path d="M120.6 596.3V708.3H195.6M118.4 708.30H120.6M118.4 685.96H120.6M118.4 663.62H120.6M118.4 641.28H120.6M118.4 618.94H120.6M118.4 596.60H120.6M135.44 708.3v2.0M157.82 708.3v2.0M180.2 708.3v2.0" stroke="#3a3a3a" stroke-width="0.8" fill="none"/>
<text x="115.20" y="711.05" font-size="6.49" font-weight="bold" fill="#000" text-anchor="end" stroke="#000" stroke-width="0.28" stroke-linejoin="round" >10</text>
<text x="115.40" y="708.90" font-size="4.6" font-weight="bold" fill="#000" stroke="#000" stroke-width="0.28" stroke-linejoin="round" >0</text>
<text x="115.20" y="688.71" font-size="6.49" font-weight="bold" fill="#000" text-anchor="end" stroke="#000" stroke-width="0.28" stroke-linejoin="round" >10</text>
<text x="115.40" y="686.56" font-size="4.6" font-weight="bold" fill="#000" stroke="#000" stroke-width="0.28" stroke-linejoin="round" >1</text>
<text x="115.20" y="666.37" font-size="6.49" font-weight="bold" fill="#000" text-anchor="end" stroke="#000" stroke-width="0.28" stroke-linejoin="round" >10</text>
<text x="115.40" y="664.22" font-size="4.6" font-weight="bold" fill="#000" stroke="#000" stroke-width="0.28" stroke-linejoin="round" >2</text>
<text x="115.20" y="644.03" font-size="6.49" font-weight="bold" fill="#000" text-anchor="end" stroke="#000" stroke-width="0.28" stroke-linejoin="round" >10</text>
<text x="115.40" y="641.88" font-size="4.6" font-weight="bold" fill="#000" stroke="#000" stroke-width="0.28" stroke-linejoin="round" >3</text>
<text x="115.20" y="621.69" font-size="6.49" font-weight="bold" fill="#000" text-anchor="end" stroke="#000" stroke-width="0.28" stroke-linejoin="round" >10</text>
<text x="115.40" y="619.54" font-size="4.6" font-weight="bold" fill="#000" stroke="#000" stroke-width="0.28" stroke-linejoin="round" >4</text>
<text x="115.20" y="599.35" font-size="6.49" font-weight="bold" fill="#000" text-anchor="end" stroke="#000" stroke-width="0.28" stroke-linejoin="round" >10</text>
<text x="115.40" y="597.20" font-size="4.6" font-weight="bold" fill="#000" stroke="#000" stroke-width="0.28" stroke-linejoin="round" >5</text>
<text x="99.70" y="711.60" font-size="6.19" font-weight="bold" fill="#000" textLength="105.9" lengthAdjust="spacingAndGlyphs" transform="rotate(-90 99.70 711.60)" stroke="#000" stroke-width="0.28" stroke-linejoin="round" >PVNT50&#160;&#160;(Reciprocal dilution factor)</text>
<text x="137.04" y="714.90" font-size="6.19" font-weight="bold" fill="#000" text-anchor="end" transform="rotate(-45 137.04 714.90)" stroke="#000" stroke-width="0.28" stroke-linejoin="round" >BA.2</text>
<text x="159.42" y="714.90" font-size="6.19" font-weight="bold" fill="#000" text-anchor="end" transform="rotate(-45 159.42 714.90)" stroke="#000" stroke-width="0.28" stroke-linejoin="round" >BA.2.86 S446G</text>
<text x="181.80" y="714.90" font-size="6.19" font-weight="bold" fill="#000" text-anchor="end" transform="rotate(-45 181.80 714.90)" stroke="#000" stroke-width="0.28" stroke-linejoin="round" >BA.2.86</text>
<text x="280.20" y="586.00" font-size="8.59" font-weight="bold" fill="#000" text-anchor="middle" stroke="#000" stroke-width="0.27" stroke-linejoin="round" >BA.2.86 D450N</text>
<path d="M243.25 668.5H318.5" stroke="#b4b4b4" stroke-width="0.6" fill="none"/>
<path d="M258.09 616.3L280.47 657.6L302.85 646.4M258.09 620.8L280.47 653.2L302.85 639.6M258.09 626.3L280.47 660.6L302.85 646.9M258.09 628.6L280.47 659.6L302.85 666.2M258.09 630.4L280.47 636.1L302.85 664.2M258.09 630.4L280.47 661.9L302.85 661.6M258.09 632.4L280.47 640.5L302.85 685.7M258.09 632.7L280.47 656.9L302.85 670.6M258.09 634.8L280.47 663.7L302.85 641.6M258.09 634.8L280.47 664.2L302.85 674.2M258.09 636.8L280.47 661.0L302.85 663.1M258.09 638.8L280.47 664.2L302.85 672.9M258.09 640.5L280.47 664.2L302.85 659.2M258.09 642.5L280.47 666.0L302.85 656.4M258.09 642.5L280.47 667.9L302.85 678.8M258.09 644.5L280.47 685.9L302.85 685.9M258.09 646.4L280.47 670.1L302.85 661.6M258.09 648.2L280.47 685.9L302.85 685.7M258.09 651.9L280.47 667.9L302.85 670.8M258.09 668.3L280.47 675.2L302.85 685.9" stroke="#e2e2e2" stroke-width="0.45" fill="none"/>
<path d="M258.5 610.9V606.1Q258.5 605.5 259.1 605.5H301.9Q302.5 605.5 302.5 606.1V610.9M258.5 614.0V612.5H279.75V633.9M281.19 633.9V612.5H302.5V637.3" stroke="#484848" stroke-width="0.72" fill="none"/>
<g fill="#2a2a2a"><circle cx="277.32" cy="602.90" r="0.85"/><circle cx="279.42" cy="602.90" r="0.85"/><circle cx="281.52" cy="602.90" r="0.85"/><circle cx="283.62" cy="602.90" r="0.85"/></g>
<g fill="#2a2a2a"><circle cx="266.13" cy="609.90" r="0.85"/><circle cx="268.23" cy="609.90" r="0.85"/><circle cx="270.33" cy="609.90" r="0.85"/><circle cx="272.43" cy="609.90" r="0.85"/></g>
<text x="291.66" y="611.00" font-size="3.7" font-weight="normal" fill="#444" text-anchor="middle" >ns</text>
<g fill="#1a12e4"><circle cx="258.09" cy="616.3" r="1.75"/><circle cx="258.09" cy="620.8" r="1.75"/><circle cx="258.09" cy="626.3" r="1.75"/><circle cx="258.09" cy="628.6" r="1.75"/><circle cx="258.09" cy="630.4" r="1.75"/><circle cx="258.09" cy="630.4" r="1.75"/><circle cx="258.09" cy="632.4" r="1.75"/><circle cx="258.09" cy="632.7" r="1.75"/><circle cx="258.09" cy="634.8" r="1.75"/><circle cx="258.09" cy="634.8" r="1.75"/><circle cx="258.09" cy="636.8" r="1.75"/><circle cx="258.09" cy="638.8" r="1.75"/><circle cx="258.09" cy="640.5" r="1.75"/><circle cx="258.09" cy="642.5" r="1.75"/><circle cx="258.09" cy="642.5" r="1.75"/><circle cx="258.09" cy="644.5" r="1.75"/><circle cx="258.09" cy="646.4" r="1.75"/><circle cx="258.09" cy="648.2" r="1.75"/><circle cx="258.09" cy="651.9" r="1.75"/><circle cx="258.09" cy="668.3" r="1.75"/></g>
<g fill="#92199e"><circle cx="280.47" cy="636.1" r="1.75"/><circle cx="280.47" cy="640.5" r="1.75"/><circle cx="280.47" cy="653.2" r="1.75"/><circle cx="280.47" cy="656.9" r="1.75"/><circle cx="280.47" cy="657.6" r="1.75"/><circle cx="280.47" cy="659.6" r="1.75"/><circle cx="280.47" cy="660.6" r="1.75"/><circle cx="280.47" cy="661.0" r="1.75"/><circle cx="280.47" cy="661.9" r="1.75"/><circle cx="280.47" cy="663.7" r="1.75"/><circle cx="280.47" cy="664.2" r="1.75"/><circle cx="280.47" cy="664.2" r="1.75"/><circle cx="280.47" cy="664.2" r="1.75"/><circle cx="280.47" cy="666.0" r="1.75"/><circle cx="280.47" cy="667.9" r="1.75"/><circle cx="280.47" cy="667.9" r="1.75"/><circle cx="280.47" cy="670.1" r="1.75"/><circle cx="280.47" cy="675.2" r="1.75"/><circle cx="280.47" cy="685.9" r="1.75"/><circle cx="280.47" cy="685.9" r="1.75"/></g>
<g fill="#3c9a24"><circle cx="302.85" cy="639.6" r="1.75"/><circle cx="302.85" cy="641.6" r="1.75"/><circle cx="302.85" cy="646.4" r="1.75"/><circle cx="302.85" cy="646.9" r="1.75"/><circle cx="302.85" cy="656.4" r="1.75"/><circle cx="302.85" cy="659.2" r="1.75"/><circle cx="302.85" cy="661.6" r="1.75"/><circle cx="302.85" cy="661.6" r="1.75"/><circle cx="302.85" cy="663.1" r="1.75"/><circle cx="302.85" cy="664.2" r="1.75"/><circle cx="302.85" cy="666.2" r="1.75"/><circle cx="302.85" cy="670.6" r="1.75"/><circle cx="302.85" cy="670.8" r="1.75"/><circle cx="302.85" cy="672.9" r="1.75"/><circle cx="302.85" cy="674.2" r="1.75"/><circle cx="302.85" cy="678.8" r="1.75"/><circle cx="302.85" cy="685.7" r="1.75"/><circle cx="302.85" cy="685.7" r="1.75"/><circle cx="302.85" cy="685.9" r="1.75"/><circle cx="302.85" cy="685.9" r="1.75"/></g>
<path d="M243.25 596.2V708.2H318.5M241.1 708.20H243.25M241.1 685.86H243.25M241.1 663.52H243.25M241.1 641.18H243.25M241.1 618.84H243.25M241.1 596.50H243.25M258.09 708.2v2.0M280.47 708.2v2.0M302.85 708.2v2.0" stroke="#3a3a3a" stroke-width="0.8" fill="none"/>
<text x="237.85" y="710.95" font-size="6.49" font-weight="bold" fill="#000" text-anchor="end" stroke="#000" stroke-width="0.28" stroke-linejoin="round" >10</text>
<text x="238.05" y="708.80" font-size="4.6" font-weight="bold" fill="#000" stroke="#000" stroke-width="0.28" stroke-linejoin="round" >0</text>
<text x="237.85" y="688.61" font-size="6.49" font-weight="bold" fill="#000" text-anchor="end" stroke="#000" stroke-width="0.28" stroke-linejoin="round" >10</text>
<text x="238.05" y="686.46" font-size="4.6" font-weight="bold" fill="#000" stroke="#000" stroke-width="0.28" stroke-linejoin="round" >1</text>
<text x="237.85" y="666.27" font-size="6.49" font-weight="bold" fill="#000" text-anchor="end" stroke="#000" stroke-width="0.28" stroke-linejoin="round" >10</text>
<text x="238.05" y="664.12" font-size="4.6" font-weight="bold" fill="#000" stroke="#000" stroke-width="0.28" stroke-linejoin="round" >2</text>
<text x="237.85" y="643.93" font-size="6.49" font-weight="bold" fill="#000" text-anchor="end" stroke="#000" stroke-width="0.28" stroke-linejoin="round" >10</text>
<text x="238.05" y="641.78" font-size="4.6" font-weight="bold" fill="#000" stroke="#000" stroke-width="0.28" stroke-linejoin="round" >3</text>
<text x="237.85" y="621.59" font-size="6.49" font-weight="bold" fill="#000" text-anchor="end" stroke="#000" stroke-width="0.28" stroke-linejoin="round" >10</text>
<text x="238.05" y="619.44" font-size="4.6" font-weight="bold" fill="#000" stroke="#000" stroke-width="0.28" stroke-linejoin="round" >4</text>
<text x="237.85" y="599.25" font-size="6.49" font-weight="bold" fill="#000" text-anchor="end" stroke="#000" stroke-width="0.28" stroke-linejoin="round" >10</text>
<text x="238.05" y="597.10" font-size="4.6" font-weight="bold" fill="#000" stroke="#000" stroke-width="0.28" stroke-linejoin="round" >5</text>
<text x="222.80" y="711.50" font-size="6.19" font-weight="bold" fill="#000" textLength="105.9" lengthAdjust="spacingAndGlyphs" transform="rotate(-90 222.80 711.50)" stroke="#000" stroke-width="0.28" stroke-linejoin="round" >PVNT50&#160;&#160;(Reciprocal dilution factor)</text>
<text x="259.69" y="714.80" font-size="6.19" font-weight="bold" fill="#000" text-anchor="end" transform="rotate(-45 259.69 714.80)" stroke="#000" stroke-width="0.28" stroke-linejoin="round" >BA.2</text>
<text x="282.07" y="714.80" font-size="6.19" font-weight="bold" fill="#000" text-anchor="end" transform="rotate(-45 282.07 714.80)" stroke="#000" stroke-width="0.28" stroke-linejoin="round" >BA.2.86 D450N</text>
<text x="304.45" y="714.80" font-size="6.19" font-weight="bold" fill="#000" text-anchor="end" transform="rotate(-45 304.45 714.80)" stroke="#000" stroke-width="0.28" stroke-linejoin="round" >BA.2.86</text>
<text x="407.30" y="585.60" font-size="8.59" font-weight="bold" fill="#000" text-anchor="middle" stroke="#000" stroke-width="0.27" stroke-linejoin="round" >BA.2.86 W452L</text>
<path d="M370.1 668.5H445.5" stroke="#b4b4b4" stroke-width="0.6" fill="none"/>
<path d="M384.94 616.3L407.32 635.0L429.7 646.9M384.94 620.8L407.32 650.5L429.7 641.6M384.94 626.3L407.32 646.4L429.7 639.6M384.94 628.6L407.32 660.6L429.7 661.6M384.94 630.4L407.32 645.9L429.7 670.8M384.94 630.4L407.32 655.1L429.7 656.4M384.94 632.4L407.32 661.5L429.7 664.2M384.94 632.7L407.32 654.3L429.7 661.6M384.94 634.8L407.32 664.2L429.7 685.9M384.94 634.8L407.32 663.3L429.7 672.9M384.94 636.8L407.32 685.9L429.7 666.2M384.94 638.8L407.32 664.2L429.7 646.4M384.94 640.5L407.32 665.6L429.7 674.2M384.94 642.5L407.32 666.9L429.7 685.7M384.94 642.5L407.32 667.9L429.7 685.7M384.94 644.5L407.32 673.8L429.7 670.6M384.94 646.4L407.32 675.2L429.7 685.9M384.94 648.2L407.32 669.7L429.7 663.1M384.94 651.9L407.32 685.9L429.7 659.2M384.94 668.3L407.32 685.9L429.7 678.8" stroke="#e2e2e2" stroke-width="0.45" fill="none"/>
<path d="M384.5 610.9V606.1Q384.5 605.5 385.1 605.5H428.9Q429.5 605.5 429.5 606.1V610.9M384.5 614.0V612.5H406.6V632.8M408.04 632.8V612.5H429.5V637.3" stroke="#484848" stroke-width="0.72" fill="none"/>
<g fill="#2a2a2a"><circle cx="404.17" cy="602.90" r="0.85"/><circle cx="406.27" cy="602.90" r="0.85"/><circle cx="408.37" cy="602.90" r="0.85"/><circle cx="410.47" cy="602.90" r="0.85"/></g>
<g fill="#2a2a2a"><circle cx="392.98" cy="609.90" r="0.85"/><circle cx="395.08" cy="609.90" r="0.85"/><circle cx="397.18" cy="609.90" r="0.85"/><circle cx="399.28" cy="609.90" r="0.85"/></g>
<text x="418.51" y="611.00" font-size="3.7" font-weight="normal" fill="#444" text-anchor="middle" >ns</text>
<g fill="#1a12e4"><circle cx="384.94" cy="616.3" r="1.75"/><circle cx="384.94" cy="620.8" r="1.75"/><circle cx="384.94" cy="626.3" r="1.75"/><circle cx="384.94" cy="628.6" r="1.75"/><circle cx="384.94" cy="630.4" r="1.75"/><circle cx="384.94" cy="630.4" r="1.75"/><circle cx="384.94" cy="632.4" r="1.75"/><circle cx="384.94" cy="632.7" r="1.75"/><circle cx="384.94" cy="634.8" r="1.75"/><circle cx="384.94" cy="634.8" r="1.75"/><circle cx="384.94" cy="636.8" r="1.75"/><circle cx="384.94" cy="638.8" r="1.75"/><circle cx="384.94" cy="640.5" r="1.75"/><circle cx="384.94" cy="642.5" r="1.75"/><circle cx="384.94" cy="642.5" r="1.75"/><circle cx="384.94" cy="644.5" r="1.75"/><circle cx="384.94" cy="646.4" r="1.75"/><circle cx="384.94" cy="648.2" r="1.75"/><circle cx="384.94" cy="651.9" r="1.75"/><circle cx="384.94" cy="668.3" r="1.75"/></g>
<g fill="#92199e"><circle cx="407.32" cy="635.0" r="1.75"/><circle cx="407.32" cy="645.9" r="1.75"/><circle cx="407.32" cy="646.4" r="1.75"/><circle cx="407.32" cy="650.5" r="1.75"/><circle cx="407.32" cy="654.3" r="1.75"/><circle cx="407.32" cy="655.1" r="1.75"/><circle cx="407.32" cy="660.6" r="1.75"/><circle cx="407.32" cy="661.5" r="1.75"/><circle cx="407.32" cy="663.3" r="1.75"/><circle cx="407.32" cy="664.2" r="1.75"/><circle cx="407.32" cy="664.2" r="1.75"/><circle cx="407.32" cy="665.6" r="1.75"/><circle cx="407.32" cy="666.9" r="1.75"/><circle cx="407.32" cy="667.9" r="1.75"/><circle cx="407.32" cy="669.7" r="1.75"/><circle cx="407.32" cy="673.8" r="1.75"/><circle cx="407.32" cy="675.2" r="1.75"/><circle cx="407.32" cy="685.9" r="1.75"/><circle cx="407.32" cy="685.9" r="1.75"/><circle cx="407.32" cy="685.9" r="1.75"/></g>
<g fill="#3c9a24"><circle cx="429.7" cy="639.6" r="1.75"/><circle cx="429.7" cy="641.6" r="1.75"/><circle cx="429.7" cy="646.4" r="1.75"/><circle cx="429.7" cy="646.9" r="1.75"/><circle cx="429.7" cy="656.4" r="1.75"/><circle cx="429.7" cy="659.2" r="1.75"/><circle cx="429.7" cy="661.6" r="1.75"/><circle cx="429.7" cy="661.6" r="1.75"/><circle cx="429.7" cy="663.1" r="1.75"/><circle cx="429.7" cy="664.2" r="1.75"/><circle cx="429.7" cy="666.2" r="1.75"/><circle cx="429.7" cy="670.6" r="1.75"/><circle cx="429.7" cy="670.8" r="1.75"/><circle cx="429.7" cy="672.9" r="1.75"/><circle cx="429.7" cy="674.2" r="1.75"/><circle cx="429.7" cy="678.8" r="1.75"/><circle cx="429.7" cy="685.7" r="1.75"/><circle cx="429.7" cy="685.7" r="1.75"/><circle cx="429.7" cy="685.9" r="1.75"/><circle cx="429.7" cy="685.9" r="1.75"/></g>
<path d="M370.1 596.2V708.2H445.5M367.9 708.20H370.1M367.9 685.86H370.1M367.9 663.52H370.1M367.9 641.18H370.1M367.9 618.84H370.1M367.9 596.50H370.1M384.94 708.2v2.0M407.32 708.2v2.0M429.7 708.2v2.0" stroke="#3a3a3a" stroke-width="0.8" fill="none"/>
<text x="364.70" y="710.95" font-size="6.49" font-weight="bold" fill="#000" text-anchor="end" stroke="#000" stroke-width="0.28" stroke-linejoin="round" >10</text>
<text x="364.90" y="708.80" font-size="4.6" font-weight="bold" fill="#000" stroke="#000" stroke-width="0.28" stroke-linejoin="round" >0</text>
<text x="364.70" y="688.61" font-size="6.49" font-weight="bold" fill="#000" text-anchor="end" stroke="#000" stroke-width="0.28" stroke-linejoin="round" >10</text>
<text x="364.90" y="686.46" font-size="4.6" font-weight="bold" fill="#000" stroke="#000" stroke-width="0.28" stroke-linejoin="round" >1</text>
<text x="364.70" y="666.27" font-size="6.49" font-weight="bold" fill="#000" text-anchor="end" stroke="#000" stroke-width="0.28" stroke-linejoin="round" >10</text>
<text x="364.90" y="664.12" font-size="4.6" font-weight="bold" fill="#000" stroke="#000" stroke-width="0.28" stroke-linejoin="round" >2</text>
<text x="364.70" y="643.93" font-size="6.49" font-weight="bold" fill="#000" text-anchor="end" stroke="#000" stroke-width="0.28" stroke-linejoin="round" >10</text>
<text x="364.90" y="641.78" font-size="4.6" font-weight="bold" fill="#000" stroke="#000" stroke-width="0.28" stroke-linejoin="round" >3</text>
<text x="364.70" y="621.59" font-size="6.49" font-weight="bold" fill="#000" text-anchor="end" stroke="#000" stroke-width="0.28" stroke-linejoin="round" >10</text>
<text x="364.90" y="619.44" font-size="4.6" font-weight="bold" fill="#000" stroke="#000" stroke-width="0.28" stroke-linejoin="round" >4</text>
<text x="364.70" y="599.25" font-size="6.49" font-weight="bold" fill="#000" text-anchor="end" stroke="#000" stroke-width="0.28" stroke-linejoin="round" >10</text>
<text x="364.90" y="597.10" font-size="4.6" font-weight="bold" fill="#000" stroke="#000" stroke-width="0.28" stroke-linejoin="round" >5</text>
<text x="351.60" y="711.50" font-size="6.19" font-weight="bold" fill="#000" textLength="105.9" lengthAdjust="spacingAndGlyphs" transform="rotate(-90 351.60 711.50)" stroke="#000" stroke-width="0.28" stroke-linejoin="round" >PVNT50&#160;&#160;(Reciprocal dilution factor)</text>
<text x="386.54" y="714.80" font-size="6.19" font-weight="bold" fill="#000" text-anchor="end" transform="rotate(-45 386.54 714.80)" stroke="#000" stroke-width="0.28" stroke-linejoin="round" >BA.2</text>
<text x="408.92" y="714.80" font-size="6.19" font-weight="bold" fill="#000" text-anchor="end" transform="rotate(-45 408.92 714.80)" stroke="#000" stroke-width="0.28" stroke-linejoin="round" >BA.2.86 W452L</text>
<text x="431.30" y="714.80" font-size="6.19" font-weight="bold" fill="#000" text-anchor="end" transform="rotate(-45 431.30 714.80)" stroke="#000" stroke-width="0.28" stroke-linejoin="round" >BA.2.86</text>
<text x="523.50" y="591.60" font-size="8.17" font-weight="bold" fill="#000" text-anchor="middle" stroke="#000" stroke-width="0.25" stroke-linejoin="round" >BA.2.86 K460N</text>
<path d="M488.25 670.5H559.2" stroke="#b4b4b4" stroke-width="0.6" fill="none"/>
<path d="M502.36 620.8L523.63 644.2L544.91 642.9M502.36 625.1L523.63 654.2L544.91 644.8M502.36 630.3L523.63 646.8L544.91 661.6M502.36 632.5L523.63 641.0L544.91 665.3M502.36 634.3L523.63 636.4L544.91 666.4M502.36 634.3L523.63 653.8L544.91 659.0M502.36 636.2L523.63 651.6L544.91 686.8M502.36 636.4L523.63 662.9L544.91 649.4M502.36 638.4L523.63 655.1L544.91 649.9M502.36 638.4L523.63 658.1L544.91 675.9M502.36 640.3L523.63 650.7L544.91 686.8M502.36 642.2L523.63 660.7L544.91 663.9M502.36 643.8L523.63 659.0L544.91 680.3M502.36 645.7L523.63 658.1L544.91 672.4M502.36 645.7L523.63 660.7L544.91 687.0M502.36 647.6L523.63 667.2L544.91 674.6M502.36 649.4L523.63 666.4L544.91 663.9M502.36 651.2L523.63 665.9L544.91 668.3M502.36 654.7L523.63 668.1L544.91 687.0M502.36 670.3L523.63 671.6L544.91 672.6" stroke="#e2e2e2" stroke-width="0.45" fill="none"/>
<path d="M502.5 614.9V610.1Q502.5 609.5 503.1 609.5H543.9Q544.5 609.5 544.5 610.1V614.9M502.5 618.5V616.5H522.91V634.2M524.35 634.2V616.5H544.5V640.6" stroke="#484848" stroke-width="0.72" fill="none"/>
<g fill="#2a2a2a"><circle cx="520.49" cy="606.90" r="0.85"/><circle cx="522.59" cy="606.90" r="0.85"/><circle cx="524.68" cy="606.90" r="0.85"/><circle cx="526.78" cy="606.90" r="0.85"/></g>
<g fill="#2a2a2a"><circle cx="511.94" cy="613.90" r="0.85"/><circle cx="514.04" cy="613.90" r="0.85"/></g>
<text x="534.27" y="615.00" font-size="3.7" font-weight="normal" fill="#444" text-anchor="middle" >ns</text>
<g fill="#1a12e4"><circle cx="502.36" cy="620.8" r="1.75"/><circle cx="502.36" cy="625.1" r="1.75"/><circle cx="502.36" cy="630.3" r="1.75"/><circle cx="502.36" cy="632.5" r="1.75"/><circle cx="502.36" cy="634.3" r="1.75"/><circle cx="502.36" cy="634.3" r="1.75"/><circle cx="502.36" cy="636.2" r="1.75"/><circle cx="502.36" cy="636.4" r="1.75"/><circle cx="502.36" cy="638.4" r="1.75"/><circle cx="502.36" cy="638.4" r="1.75"/><circle cx="502.36" cy="640.3" r="1.75"/><circle cx="502.36" cy="642.2" r="1.75"/><circle cx="502.36" cy="643.8" r="1.75"/><circle cx="502.36" cy="645.7" r="1.75"/><circle cx="502.36" cy="645.7" r="1.75"/><circle cx="502.36" cy="647.6" r="1.75"/><circle cx="502.36" cy="649.4" r="1.75"/><circle cx="502.36" cy="651.2" r="1.75"/><circle cx="502.36" cy="654.7" r="1.75"/><circle cx="502.36" cy="670.3" r="1.75"/></g>
<g fill="#92199e"><circle cx="523.63" cy="636.4" r="1.75"/><circle cx="523.63" cy="641.0" r="1.75"/><circle cx="523.63" cy="644.2" r="1.75"/><circle cx="523.63" cy="646.8" r="1.75"/><circle cx="523.63" cy="650.7" r="1.75"/><circle cx="523.63" cy="651.6" r="1.75"/><circle cx="523.63" cy="653.8" r="1.75"/><circle cx="523.63" cy="654.2" r="1.75"/><circle cx="523.63" cy="655.1" r="1.75"/><circle cx="523.63" cy="658.1" r="1.75"/><circle cx="523.63" cy="658.1" r="1.75"/><circle cx="523.63" cy="659.0" r="1.75"/><circle cx="523.63" cy="660.7" r="1.75"/><circle cx="523.63" cy="660.7" r="1.75"/><circle cx="523.63" cy="662.9" r="1.75"/><circle cx="523.63" cy="665.9" r="1.75"/><circle cx="523.63" cy="666.4" r="1.75"/><circle cx="523.63" cy="667.2" r="1.75"/><circle cx="523.63" cy="668.1" r="1.75"/><circle cx="523.63" cy="671.6" r="1.75"/></g>
<g fill="#3c9a24"><circle cx="544.91" cy="642.9" r="1.75"/><circle cx="544.91" cy="644.8" r="1.75"/><circle cx="544.91" cy="649.4" r="1.75"/><circle cx="544.91" cy="649.9" r="1.75"/><circle cx="544.91" cy="659.0" r="1.75"/><circle cx="544.91" cy="661.6" r="1.75"/><circle cx="544.91" cy="663.9" r="1.75"/><circle cx="544.91" cy="663.9" r="1.75"/><circle cx="544.91" cy="665.3" r="1.75"/><circle cx="544.91" cy="666.4" r="1.75"/><circle cx="544.91" cy="668.3" r="1.75"/><circle cx="544.91" cy="672.4" r="1.75"/><circle cx="544.91" cy="672.6" r="1.75"/><circle cx="544.91" cy="674.6" r="1.75"/><circle cx="544.91" cy="675.9" r="1.75"/><circle cx="544.91" cy="680.3" r="1.75"/><circle cx="544.91" cy="686.8" r="1.75"/><circle cx="544.91" cy="686.8" r="1.75"/><circle cx="544.91" cy="687.0" r="1.75"/><circle cx="544.91" cy="687.0" r="1.75"/></g>
<path d="M488.25 601.7V708.2H559.2M486.1 708.20H488.25M486.1 686.96H488.25M486.1 665.72H488.25M486.1 644.48H488.25M486.1 623.24H488.25M486.1 602.00H488.25M502.36 708.2v2.0M523.63 708.2v2.0M544.91 708.2v2.0" stroke="#3a3a3a" stroke-width="0.8" fill="none"/>
<text x="482.85" y="710.95" font-size="6.17" font-weight="bold" fill="#000" text-anchor="end" stroke="#000" stroke-width="0.28" stroke-linejoin="round" >10</text>
<text x="483.05" y="708.80" font-size="4.37" font-weight="bold" fill="#000" stroke="#000" stroke-width="0.28" stroke-linejoin="round" >0</text>
<text x="482.85" y="689.71" font-size="6.17" font-weight="bold" fill="#000" text-anchor="end" stroke="#000" stroke-width="0.28" stroke-linejoin="round" >10</text>
<text x="483.05" y="687.56" font-size="4.37" font-weight="bold" fill="#000" stroke="#000" stroke-width="0.28" stroke-linejoin="round" >1</text>
<text x="482.85" y="668.47" font-size="6.17" font-weight="bold" fill="#000" text-anchor="end" stroke="#000" stroke-width="0.28" stroke-linejoin="round" >10</text>
<text x="483.05" y="666.32" font-size="4.37" font-weight="bold" fill="#000" stroke="#000" stroke-width="0.28" stroke-linejoin="round" >2</text>
<text x="482.85" y="647.23" font-size="6.17" font-weight="bold" fill="#000" text-anchor="end" stroke="#000" stroke-width="0.28" stroke-linejoin="round" >10</text>
<text x="483.05" y="645.08" font-size="4.37" font-weight="bold" fill="#000" stroke="#000" stroke-width="0.28" stroke-linejoin="round" >3</text>
<text x="482.85" y="625.99" font-size="6.17" font-weight="bold" fill="#000" text-anchor="end" stroke="#000" stroke-width="0.28" stroke-linejoin="round" >10</text>
<text x="483.05" y="623.84" font-size="4.37" font-weight="bold" fill="#000" stroke="#000" stroke-width="0.28" stroke-linejoin="round" >4</text>
<text x="482.85" y="604.75" font-size="6.17" font-weight="bold" fill="#000" text-anchor="end" stroke="#000" stroke-width="0.28" stroke-linejoin="round" >10</text>
<text x="483.05" y="602.60" font-size="4.37" font-weight="bold" fill="#000" stroke="#000" stroke-width="0.28" stroke-linejoin="round" >5</text>
<text x="468.40" y="711.50" font-size="5.89" font-weight="bold" fill="#000" textLength="100.7" lengthAdjust="spacingAndGlyphs" transform="rotate(-90 468.40 711.50)" stroke="#000" stroke-width="0.28" stroke-linejoin="round" >PVNT50&#160;&#160;(Reciprocal dilution factor)</text>
<text x="503.96" y="714.80" font-size="5.89" font-weight="bold" fill="#000" text-anchor="end" transform="rotate(-45 503.96 714.80)" stroke="#000" stroke-width="0.28" stroke-linejoin="round" >BA.2</text>
<text x="525.23" y="714.80" font-size="5.89" font-weight="bold" fill="#000" text-anchor="end" transform="rotate(-45 525.23 714.80)" stroke="#000" stroke-width="0.28" stroke-linejoin="round" >BA.2.86 K460N</text>
<text x="546.51" y="714.80" font-size="5.89" font-weight="bold" fill="#000" text-anchor="end" transform="rotate(-45 546.51 714.80)" stroke="#000" stroke-width="0.28" stroke-linejoin="round" >BA.2.86</text>
<text x="645.10" y="585.00" font-size="8.59" font-weight="bold" fill="#000" text-anchor="middle" stroke="#000" stroke-width="0.27" stroke-linejoin="round" >BA.2.86 P486F</text>
<path d="M608.4 668.5H685.0" stroke="#b4b4b4" stroke-width="0.6" fill="none"/>
<path d="M623.24 616.3L645.62 638.6L668.0 661.6M623.24 622.9L645.62 641.6L668.0 670.8M623.24 626.3L645.62 641.6L668.0 659.2M623.24 628.6L645.62 642.7L668.0 656.4M623.24 630.4L645.62 647.3L668.0 664.2M623.24 632.4L645.62 646.9L668.0 639.6M623.24 632.7L645.62 646.9L668.0 670.6M623.24 634.8L645.62 652.8L668.0 646.4M623.24 634.8L645.62 650.1L668.0 672.9M623.24 636.8L645.62 661.5L668.0 659.2M623.24 640.5L645.62 649.6L668.0 685.7M623.24 640.5L645.62 663.5L668.0 643.0M623.24 642.5L645.62 664.2L668.0 663.1M623.24 644.5L645.62 665.6L668.0 685.7M623.24 646.4L645.62 685.9L668.0 683.4M623.24 646.4L645.62 666.8L668.0 666.2M623.24 651.9L645.62 671.1L668.0 685.9M623.24 668.3L645.62 685.9L668.0 674.2" stroke="#e2e2e2" stroke-width="0.45" fill="none"/>
<path d="M623.5 609.9V605.1Q623.5 604.5 624.1 604.5H667.9Q668.5 604.5 668.5 605.1V609.9M623.5 614.0V612.5H644.9V636.4M646.34 636.4V612.5H668.5V637.3" stroke="#484848" stroke-width="0.72" fill="none"/>
<g fill="#2a2a2a"><circle cx="642.47" cy="601.90" r="0.85"/><circle cx="644.57" cy="601.90" r="0.85"/><circle cx="646.67" cy="601.90" r="0.85"/><circle cx="648.77" cy="601.90" r="0.85"/></g>
<g fill="#2a2a2a"><circle cx="633.38" cy="609.90" r="0.85"/><circle cx="635.48" cy="609.90" r="0.85"/></g>
<text x="656.81" y="611.00" font-size="3.7" font-weight="normal" fill="#444" text-anchor="middle" >ns</text>
<g fill="#1a12e4"><circle cx="623.24" cy="616.3" r="1.75"/><circle cx="623.24" cy="622.9" r="1.75"/><circle cx="623.24" cy="626.3" r="1.75"/><circle cx="623.24" cy="628.6" r="1.75"/><circle cx="623.24" cy="630.4" r="1.75"/><circle cx="623.24" cy="632.4" r="1.75"/><circle cx="623.24" cy="632.7" r="1.75"/><circle cx="623.24" cy="634.8" r="1.75"/><circle cx="623.24" cy="634.8" r="1.75"/><circle cx="623.24" cy="636.8" r="1.75"/><circle cx="623.24" cy="640.5" r="1.75"/><circle cx="623.24" cy="640.5" r="1.75"/><circle cx="623.24" cy="642.5" r="1.75"/><circle cx="623.24" cy="644.5" r="1.75"/><circle cx="623.24" cy="646.4" r="1.75"/><circle cx="623.24" cy="646.4" r="1.75"/><circle cx="623.24" cy="651.9" r="1.75"/><circle cx="623.24" cy="668.3" r="1.75"/></g>
<g fill="#92199e"><circle cx="645.62" cy="638.6" r="1.75"/><circle cx="645.62" cy="641.6" r="1.75"/><circle cx="645.62" cy="641.6" r="1.75"/><circle cx="645.62" cy="642.7" r="1.75"/><circle cx="645.62" cy="646.9" r="1.75"/><circle cx="645.62" cy="646.9" r="1.75"/><circle cx="645.62" cy="647.3" r="1.75"/><circle cx="645.62" cy="649.6" r="1.75"/><circle cx="645.62" cy="650.1" r="1.75"/><circle cx="645.62" cy="652.8" r="1.75"/><circle cx="645.62" cy="661.5" r="1.75"/><circle cx="645.62" cy="663.5" r="1.75"/><circle cx="645.62" cy="664.2" r="1.75"/><circle cx="645.62" cy="665.6" r="1.75"/><circle cx="645.62" cy="666.8" r="1.75"/><circle cx="645.62" cy="671.1" r="1.75"/><circle cx="645.62" cy="685.9" r="1.75"/><circle cx="645.62" cy="685.9" r="1.75"/></g>
<g fill="#3c9a24"><circle cx="668.0" cy="639.6" r="1.75"/><circle cx="668.0" cy="643.0" r="1.75"/><circle cx="668.0" cy="646.4" r="1.75"/><circle cx="668.0" cy="656.4" r="1.75"/><circle cx="668.0" cy="659.2" r="1.75"/><circle cx="668.0" cy="659.2" r="1.75"/><circle cx="668.0" cy="661.6" r="1.75"/><circle cx="668.0" cy="663.1" r="1.75"/><circle cx="668.0" cy="664.2" r="1.75"/><circle cx="668.0" cy="666.2" r="1.75"/><circle cx="668.0" cy="670.6" r="1.75"/><circle cx="668.0" cy="670.8" r="1.75"/><circle cx="668.0" cy="672.9" r="1.75"/><circle cx="668.0" cy="674.2" r="1.75"/><circle cx="668.0" cy="683.4" r="1.75"/><circle cx="668.0" cy="685.7" r="1.75"/><circle cx="668.0" cy="685.7" r="1.75"/><circle cx="668.0" cy="685.9" r="1.75"/></g>
<path d="M608.4 596.2V708.2H685.0M606.2 708.20H608.4M606.2 685.86H608.4M606.2 663.52H608.4M606.2 641.18H608.4M606.2 618.84H608.4M606.2 596.50H608.4M623.24 708.2v2.0M645.62 708.2v2.0M668.0 708.2v2.0" stroke="#3a3a3a" stroke-width="0.8" fill="none"/>
<text x="603.00" y="710.95" font-size="6.49" font-weight="bold" fill="#000" text-anchor="end" stroke="#000" stroke-width="0.28" stroke-linejoin="round" >10</text>
<text x="603.20" y="708.80" font-size="4.6" font-weight="bold" fill="#000" stroke="#000" stroke-width="0.28" stroke-linejoin="round" >0</text>
<text x="603.00" y="688.61" font-size="6.49" font-weight="bold" fill="#000" text-anchor="end" stroke="#000" stroke-width="0.28" stroke-linejoin="round" >10</text>
<text x="603.20" y="686.46" font-size="4.6" font-weight="bold" fill="#000" stroke="#000" stroke-width="0.28" stroke-linejoin="round" >1</text>
<text x="603.00" y="666.27" font-size="6.49" font-weight="bold" fill="#000" text-anchor="end" stroke="#000" stroke-width="0.28" stroke-linejoin="round" >10</text>
<text x="603.20" y="664.12" font-size="4.6" font-weight="bold" fill="#000" stroke="#000" stroke-width="0.28" stroke-linejoin="round" >2</text>
<text x="603.00" y="643.93" font-size="6.49" font-weight="bold" fill="#000" text-anchor="end" stroke="#000" stroke-width="0.28" stroke-linejoin="round" >10</text>
<text x="603.20" y="641.78" font-size="4.6" font-weight="bold" fill="#000" stroke="#000" stroke-width="0.28" stroke-linejoin="round" >3</text>
<text x="603.00" y="621.59" font-size="6.49" font-weight="bold" fill="#000" text-anchor="end" stroke="#000" stroke-width="0.28" stroke-linejoin="round" >10</text>
<text x="603.20" y="619.44" font-size="4.6" font-weight="bold" fill="#000" stroke="#000" stroke-width="0.28" stroke-linejoin="round" >4</text>
<text x="603.00" y="599.25" font-size="6.49" font-weight="bold" fill="#000" text-anchor="end" stroke="#000" stroke-width="0.28" stroke-linejoin="round" >10</text>
<text x="603.20" y="597.10" font-size="4.6" font-weight="bold" fill="#000" stroke="#000" stroke-width="0.28" stroke-linejoin="round" >5</text>
<text x="588.40" y="711.50" font-size="6.19" font-weight="bold" fill="#000" textLength="105.9" lengthAdjust="spacingAndGlyphs" transform="rotate(-90 588.40 711.50)" stroke="#000" stroke-width="0.28" stroke-linejoin="round" >PVNT50&#160;&#160;(Reciprocal dilution factor)</text>
<text x="624.84" y="714.80" font-size="6.19" font-weight="bold" fill="#000" text-anchor="end" transform="rotate(-45 624.84 714.80)" stroke="#000" stroke-width="0.28" stroke-linejoin="round" >BA.2</text>
<text x="647.22" y="714.80" font-size="6.19" font-weight="bold" fill="#000" text-anchor="end" transform="rotate(-45 647.22 714.80)" stroke="#000" stroke-width="0.28" stroke-linejoin="round" >BA.2.86 P486F</text>
<text x="669.60" y="714.80" font-size="6.19" font-weight="bold" fill="#000" text-anchor="end" transform="rotate(-45 669.60 714.80)" stroke="#000" stroke-width="0.28" stroke-linejoin="round" >BA.2.86</text>
<text x="159.30" y="794.80" font-size="8.59" font-weight="bold" fill="#000" text-anchor="middle" stroke="#000" stroke-width="0.27" stroke-linejoin="round" >BA.2.86 K481N</text>
<path d="M122.25 877.5H197.3" stroke="#b4b4b4" stroke-width="0.6" fill="none"/>
<path d="M137.08 825.6L159.45 849.9L181.82 865.7M137.08 830.1L159.45 855.7L181.82 848.8M137.08 835.6L159.45 866.2L181.82 865.7M137.08 837.9L159.45 858.0L181.82 868.5M137.08 837.9L159.45 857.5L181.82 852.3M137.08 839.7L159.45 871.2L181.82 855.7M137.08 841.7L159.45 867.5L181.82 870.9M137.08 842.0L159.45 868.9L181.82 873.5M137.08 844.1L159.45 871.6L181.82 894.9M137.08 844.1L159.45 868.9L181.82 895.2M137.08 846.1L159.45 869.8L181.82 883.5M137.08 846.1L159.45 875.3L181.82 872.4M137.08 849.7L159.45 873.5L181.82 894.9M137.08 849.7L159.45 878.0L181.82 880.0M137.08 851.8L159.45 877.1L181.82 882.1M137.08 853.8L159.45 875.8L181.82 870.9M137.08 853.8L159.45 878.0L181.82 879.9M137.08 855.7L159.45 882.1L181.82 838.6M137.08 857.5L159.45 887.6L181.82 875.5M137.08 861.2L159.45 880.3L181.82 895.2M137.08 877.6L159.45 880.3L181.82 888.1" stroke="#e2e2e2" stroke-width="0.45" fill="none"/>
<path d="M137.5 818.9V814.1Q137.5 813.5 138.1 813.5H180.9Q181.5 813.5 181.5 814.1V818.9M137.5 823.3V821.5H158.73V847.7M160.17 847.7V821.5H181.5V836.3" stroke="#484848" stroke-width="0.72" fill="none"/>
<g fill="#2a2a2a"><circle cx="156.30" cy="810.90" r="0.85"/><circle cx="158.40" cy="810.90" r="0.85"/><circle cx="160.50" cy="810.90" r="0.85"/><circle cx="162.60" cy="810.90" r="0.85"/></g>
<g fill="#2a2a2a"><circle cx="145.11" cy="818.90" r="0.85"/><circle cx="147.21" cy="818.90" r="0.85"/><circle cx="149.31" cy="818.90" r="0.85"/><circle cx="151.41" cy="818.90" r="0.85"/></g>
<text x="170.63" y="820.00" font-size="3.7" font-weight="normal" fill="#444" text-anchor="middle" >ns</text>
<g fill="#1a12e4"><circle cx="137.08" cy="825.6" r="1.75"/><circle cx="137.08" cy="830.1" r="1.75"/><circle cx="137.08" cy="835.6" r="1.75"/><circle cx="137.08" cy="837.9" r="1.75"/><circle cx="137.08" cy="837.9" r="1.75"/><circle cx="137.08" cy="839.7" r="1.75"/><circle cx="137.08" cy="841.7" r="1.75"/><circle cx="137.08" cy="842.0" r="1.75"/><circle cx="137.08" cy="844.1" r="1.75"/><circle cx="137.08" cy="844.1" r="1.75"/><circle cx="137.08" cy="846.1" r="1.75"/><circle cx="137.08" cy="846.1" r="1.75"/><circle cx="137.08" cy="849.7" r="1.75"/><circle cx="137.08" cy="849.7" r="1.75"/><circle cx="137.08" cy="851.8" r="1.75"/><circle cx="137.08" cy="853.8" r="1.75"/><circle cx="137.08" cy="853.8" r="1.75"/><circle cx="137.08" cy="855.7" r="1.75"/><circle cx="137.08" cy="857.5" r="1.75"/><circle cx="137.08" cy="861.2" r="1.75"/><circle cx="137.08" cy="877.6" r="1.75"/></g>
<g fill="#92199e"><circle cx="159.45" cy="849.9" r="1.75"/><circle cx="159.45" cy="855.7" r="1.75"/><circle cx="159.45" cy="857.5" r="1.75"/><circle cx="159.45" cy="858.0" r="1.75"/><circle cx="159.45" cy="866.2" r="1.75"/><circle cx="159.45" cy="867.5" r="1.75"/><circle cx="159.45" cy="868.9" r="1.75"/><circle cx="159.45" cy="868.9" r="1.75"/><circle cx="159.45" cy="869.8" r="1.75"/><circle cx="159.45" cy="871.2" r="1.75"/><circle cx="159.45" cy="871.6" r="1.75"/><circle cx="159.45" cy="873.5" r="1.75"/><circle cx="159.45" cy="875.3" r="1.75"/><circle cx="159.45" cy="875.8" r="1.75"/><circle cx="159.45" cy="877.1" r="1.75"/><circle cx="159.45" cy="878.0" r="1.75"/><circle cx="159.45" cy="878.0" r="1.75"/><circle cx="159.45" cy="880.3" r="1.75"/><circle cx="159.45" cy="880.3" r="1.75"/><circle cx="159.45" cy="882.1" r="1.75"/><circle cx="159.45" cy="887.6" r="1.75"/></g>
<g fill="#3c9a24"><circle cx="181.82" cy="838.6" r="1.75"/><circle cx="181.82" cy="848.8" r="1.75"/><circle cx="181.82" cy="852.3" r="1.75"/><circle cx="181.82" cy="855.7" r="1.75"/><circle cx="181.82" cy="865.7" r="1.75"/><circle cx="181.82" cy="865.7" r="1.75"/><circle cx="181.82" cy="868.5" r="1.75"/><circle cx="181.82" cy="870.9" r="1.75"/><circle cx="181.82" cy="870.9" r="1.75"/><circle cx="181.82" cy="872.4" r="1.75"/><circle cx="181.82" cy="873.5" r="1.75"/><circle cx="181.82" cy="875.5" r="1.75"/><circle cx="181.82" cy="879.9" r="1.75"/><circle cx="181.82" cy="880.0" r="1.75"/><circle cx="181.82" cy="882.1" r="1.75"/><circle cx="181.82" cy="883.5" r="1.75"/><circle cx="181.82" cy="888.1" r="1.75"/><circle cx="181.82" cy="894.9" r="1.75"/><circle cx="181.82" cy="894.9" r="1.75"/><circle cx="181.82" cy="895.2" r="1.75"/><circle cx="181.82" cy="895.2" r="1.75"/></g>
<path d="M122.25 805.5V917.45H197.3M120.0 917.45H122.25M120.0 895.12H122.25M120.0 872.79H122.25M120.0 850.46H122.25M120.0 828.13H122.25M120.0 805.80H122.25M137.08 917.45v2.0M159.45 917.45v2.0M181.82 917.45v2.0" stroke="#3a3a3a" stroke-width="0.8" fill="none"/>
<text x="116.85" y="920.20" font-size="6.49" font-weight="bold" fill="#000" text-anchor="end" stroke="#000" stroke-width="0.28" stroke-linejoin="round" >10</text>
<text x="117.05" y="918.05" font-size="4.59" font-weight="bold" fill="#000" stroke="#000" stroke-width="0.28" stroke-linejoin="round" >0</text>
<text x="116.85" y="897.87" font-size="6.49" font-weight="bold" fill="#000" text-anchor="end" stroke="#000" stroke-width="0.28" stroke-linejoin="round" >10</text>
<text x="117.05" y="895.72" font-size="4.59" font-weight="bold" fill="#000" stroke="#000" stroke-width="0.28" stroke-linejoin="round" >1</text>
<text x="116.85" y="875.54" font-size="6.49" font-weight="bold" fill="#000" text-anchor="end" stroke="#000" stroke-width="0.28" stroke-linejoin="round" >10</text>
<text x="117.05" y="873.39" font-size="4.59" font-weight="bold" fill="#000" stroke="#000" stroke-width="0.28" stroke-linejoin="round" >2</text>
<text x="116.85" y="853.21" font-size="6.49" font-weight="bold" fill="#000" text-anchor="end" stroke="#000" stroke-width="0.28" stroke-linejoin="round" >10</text>
<text x="117.05" y="851.06" font-size="4.59" font-weight="bold" fill="#000" stroke="#000" stroke-width="0.28" stroke-linejoin="round" >3</text>
<text x="116.85" y="830.88" font-size="6.49" font-weight="bold" fill="#000" text-anchor="end" stroke="#000" stroke-width="0.28" stroke-linejoin="round" >10</text>
<text x="117.05" y="828.73" font-size="4.59" font-weight="bold" fill="#000" stroke="#000" stroke-width="0.28" stroke-linejoin="round" >4</text>
<text x="116.85" y="808.55" font-size="6.49" font-weight="bold" fill="#000" text-anchor="end" stroke="#000" stroke-width="0.28" stroke-linejoin="round" >10</text>
<text x="117.05" y="806.40" font-size="4.59" font-weight="bold" fill="#000" stroke="#000" stroke-width="0.28" stroke-linejoin="round" >5</text>
<text x="101.60" y="920.75" font-size="6.19" font-weight="bold" fill="#000" textLength="105.9" lengthAdjust="spacingAndGlyphs" transform="rotate(-90 101.60 920.75)" stroke="#000" stroke-width="0.28" stroke-linejoin="round" >PVNT50&#160;&#160;(Reciprocal dilution factor)</text>
<text x="138.68" y="924.05" font-size="6.19" font-weight="bold" fill="#000" text-anchor="end" transform="rotate(-45 138.68 924.05)" stroke="#000" stroke-width="0.28" stroke-linejoin="round" >BA.2</text>
<text x="161.05" y="924.05" font-size="6.19" font-weight="bold" fill="#000" text-anchor="end" transform="rotate(-45 161.05 924.05)" stroke="#000" stroke-width="0.28" stroke-linejoin="round" >BA.2.86 K481N</text>
<text x="183.42" y="924.05" font-size="6.19" font-weight="bold" fill="#000" text-anchor="end" transform="rotate(-45 183.42 924.05)" stroke="#000" stroke-width="0.28" stroke-linejoin="round" >BA.2.86</text>
<text x="279.60" y="795.00" font-size="8.58" font-weight="bold" fill="#000" text-anchor="middle" stroke="#000" stroke-width="0.27" stroke-linejoin="round" >BA.2.86 &#916;483Y</text>
<path d="M243.4 877.5H318.7" stroke="#b4b4b4" stroke-width="0.6" fill="none"/>
<path d="M258.21 825.8L280.55 836.5L302.89 852.5M258.21 830.4L280.55 832.7L302.89 838.9M258.21 835.9L280.55 837.0L302.89 849.1M258.21 838.1L280.55 860.7L302.89 872.6M258.21 838.1L280.55 845.9L302.89 855.9M258.21 840.0L280.55 853.2L302.89 875.7M258.21 842.0L280.55 850.4L302.89 865.9M258.21 842.2L280.55 857.5L302.89 880.1M258.21 844.3L280.55 874.6L302.89 888.3M258.21 844.3L280.55 869.1L302.89 873.7M258.21 846.3L280.55 865.5L302.89 865.9M258.21 846.3L280.55 877.3L302.89 895.1M258.21 850.0L280.55 870.9L302.89 868.7M258.21 850.0L280.55 863.2L302.89 880.2M258.21 852.0L280.55 867.8L302.89 882.3M258.21 854.0L280.55 893.0L302.89 871.1M258.21 854.0L280.55 895.1L302.89 871.1M258.21 855.9L280.55 875.1L302.89 895.4M258.21 857.7L280.55 877.8L302.89 895.1M258.21 861.4L280.55 875.5L302.89 883.7M258.21 877.8L280.55 880.5L302.89 895.4" stroke="#e2e2e2" stroke-width="0.45" fill="none"/>
<path d="M258.5 820.9V816.1Q258.5 815.5 259.1 815.5H301.9Q302.5 815.5 302.5 816.1V820.9M258.5 823.5V822.5H279.83V830.5M281.27 830.5V822.5H302.5V836.6" stroke="#484848" stroke-width="0.72" fill="none"/>
<g fill="#2a2a2a"><circle cx="277.40" cy="812.90" r="0.85"/><circle cx="279.50" cy="812.90" r="0.85"/><circle cx="281.60" cy="812.90" r="0.85"/><circle cx="283.70" cy="812.90" r="0.85"/></g>
<g fill="#2a2a2a"><circle cx="268.33" cy="819.90" r="0.85"/><circle cx="270.43" cy="819.90" r="0.85"/></g>
<g fill="#2a2a2a"><circle cx="291.72" cy="819.90" r="0.85"/></g>
<g fill="#1a12e4"><circle cx="258.21" cy="825.8" r="1.75"/><circle cx="258.21" cy="830.4" r="1.75"/><circle cx="258.21" cy="835.9" r="1.75"/><circle cx="258.21" cy="838.1" r="1.75"/><circle cx="258.21" cy="838.1" r="1.75"/><circle cx="258.21" cy="840.0" r="1.75"/><circle cx="258.21" cy="842.0" r="1.75"/><circle cx="258.21" cy="842.2" r="1.75"/><circle cx="258.21" cy="844.3" r="1.75"/><circle cx="258.21" cy="844.3" r="1.75"/><circle cx="258.21" cy="846.3" r="1.75"/><circle cx="258.21" cy="846.3" r="1.75"/><circle cx="258.21" cy="850.0" r="1.75"/><circle cx="258.21" cy="850.0" r="1.75"/><circle cx="258.21" cy="852.0" r="1.75"/><circle cx="258.21" cy="854.0" r="1.75"/><circle cx="258.21" cy="854.0" r="1.75"/><circle cx="258.21" cy="855.9" r="1.75"/><circle cx="258.21" cy="857.7" r="1.75"/><circle cx="258.21" cy="861.4" r="1.75"/><circle cx="258.21" cy="877.8" r="1.75"/></g>
<g fill="#92199e"><circle cx="280.55" cy="832.7" r="1.75"/><circle cx="280.55" cy="836.5" r="1.75"/><circle cx="280.55" cy="837.0" r="1.75"/><circle cx="280.55" cy="845.9" r="1.75"/><circle cx="280.55" cy="850.4" r="1.75"/><circle cx="280.55" cy="853.2" r="1.75"/><circle cx="280.55" cy="857.5" r="1.75"/><circle cx="280.55" cy="860.7" r="1.75"/><circle cx="280.55" cy="863.2" r="1.75"/><circle cx="280.55" cy="865.5" r="1.75"/><circle cx="280.55" cy="867.8" r="1.75"/><circle cx="280.55" cy="869.1" r="1.75"/><circle cx="280.55" cy="870.9" r="1.75"/><circle cx="280.55" cy="874.6" r="1.75"/><circle cx="280.55" cy="875.1" r="1.75"/><circle cx="280.55" cy="875.5" r="1.75"/><circle cx="280.55" cy="877.3" r="1.75"/><circle cx="280.55" cy="877.8" r="1.75"/><circle cx="280.55" cy="880.5" r="1.75"/><circle cx="280.55" cy="893.0" r="1.75"/><circle cx="280.55" cy="895.1" r="1.75"/></g>
<g fill="#3c9a24"><circle cx="302.89" cy="838.9" r="1.75"/><circle cx="302.89" cy="849.1" r="1.75"/><circle cx="302.89" cy="852.5" r="1.75"/><circle cx="302.89" cy="855.9" r="1.75"/><circle cx="302.89" cy="865.9" r="1.75"/><circle cx="302.89" cy="865.9" r="1.75"/><circle cx="302.89" cy="868.7" r="1.75"/><circle cx="302.89" cy="871.1" r="1.75"/><circle cx="302.89" cy="871.1" r="1.75"/><circle cx="302.89" cy="872.6" r="1.75"/><circle cx="302.89" cy="873.7" r="1.75"/><circle cx="302.89" cy="875.7" r="1.75"/><circle cx="302.89" cy="880.1" r="1.75"/><circle cx="302.89" cy="880.2" r="1.75"/><circle cx="302.89" cy="882.3" r="1.75"/><circle cx="302.89" cy="883.7" r="1.75"/><circle cx="302.89" cy="888.3" r="1.75"/><circle cx="302.89" cy="895.1" r="1.75"/><circle cx="302.89" cy="895.1" r="1.75"/><circle cx="302.89" cy="895.4" r="1.75"/><circle cx="302.89" cy="895.4" r="1.75"/></g>
<path d="M243.4 805.8V917.6H318.7M241.2 917.60H243.4M241.2 895.30H243.4M241.2 873.00H243.4M241.2 850.70H243.4M241.2 828.40H243.4M241.2 806.10H243.4M258.21 917.6v2.0M280.55 917.6v2.0M302.89 917.6v2.0" stroke="#3a3a3a" stroke-width="0.8" fill="none"/>
<text x="238.00" y="920.35" font-size="6.48" font-weight="bold" fill="#000" text-anchor="end" stroke="#000" stroke-width="0.28" stroke-linejoin="round" >10</text>
<text x="238.20" y="918.20" font-size="4.59" font-weight="bold" fill="#000" stroke="#000" stroke-width="0.28" stroke-linejoin="round" >0</text>
<text x="238.00" y="898.05" font-size="6.48" font-weight="bold" fill="#000" text-anchor="end" stroke="#000" stroke-width="0.28" stroke-linejoin="round" >10</text>
<text x="238.20" y="895.90" font-size="4.59" font-weight="bold" fill="#000" stroke="#000" stroke-width="0.28" stroke-linejoin="round" >1</text>
<text x="238.00" y="875.75" font-size="6.48" font-weight="bold" fill="#000" text-anchor="end" stroke="#000" stroke-width="0.28" stroke-linejoin="round" >10</text>
<text x="238.20" y="873.60" font-size="4.59" font-weight="bold" fill="#000" stroke="#000" stroke-width="0.28" stroke-linejoin="round" >2</text>
<text x="238.00" y="853.45" font-size="6.48" font-weight="bold" fill="#000" text-anchor="end" stroke="#000" stroke-width="0.28" stroke-linejoin="round" >10</text>
<text x="238.20" y="851.30" font-size="4.59" font-weight="bold" fill="#000" stroke="#000" stroke-width="0.28" stroke-linejoin="round" >3</text>
<text x="238.00" y="831.15" font-size="6.48" font-weight="bold" fill="#000" text-anchor="end" stroke="#000" stroke-width="0.28" stroke-linejoin="round" >10</text>
<text x="238.20" y="829.00" font-size="4.59" font-weight="bold" fill="#000" stroke="#000" stroke-width="0.28" stroke-linejoin="round" >4</text>
<text x="238.00" y="808.85" font-size="6.48" font-weight="bold" fill="#000" text-anchor="end" stroke="#000" stroke-width="0.28" stroke-linejoin="round" >10</text>
<text x="238.20" y="806.70" font-size="4.59" font-weight="bold" fill="#000" stroke="#000" stroke-width="0.28" stroke-linejoin="round" >5</text>
<text x="223.10" y="920.90" font-size="6.18" font-weight="bold" fill="#000" textLength="105.7" lengthAdjust="spacingAndGlyphs" transform="rotate(-90 223.10 920.90)" stroke="#000" stroke-width="0.28" stroke-linejoin="round" >PVNT50&#160;&#160;(Reciprocal dilution factor)</text>
<text x="259.81" y="924.20" font-size="6.18" font-weight="bold" fill="#000" text-anchor="end" transform="rotate(-45 259.81 924.20)" stroke="#000" stroke-width="0.28" stroke-linejoin="round" >BA.2</text>
<text x="282.15" y="924.20" font-size="6.18" font-weight="bold" fill="#000" text-anchor="end" transform="rotate(-45 282.15 924.20)" stroke="#000" stroke-width="0.28" stroke-linejoin="round" >BA.2.86 &#916;483Y</text>
<text x="304.49" y="924.20" font-size="6.18" font-weight="bold" fill="#000" text-anchor="end" transform="rotate(-45 304.49 924.20)" stroke="#000" stroke-width="0.28" stroke-linejoin="round" >BA.2.86</text>
<text x="407.00" y="795.80" font-size="8.58" font-weight="bold" fill="#000" text-anchor="middle" stroke="#000" stroke-width="0.27" stroke-linejoin="round" >BA.2.86 K484A</text>
<path d="M369.55 877.5H443.9" stroke="#b4b4b4" stroke-width="0.6" fill="none"/>
<path d="M384.37 825.7L406.73 842.5L429.09 852.4M384.37 832.3L406.73 841.6L429.09 872.4M384.37 835.7L406.73 862.6L429.09 848.9M384.37 838.0L406.73 853.9L429.09 855.8M384.37 839.8L406.73 846.6L429.09 871.0M384.37 841.8L406.73 852.4L429.09 865.8M384.37 842.1L406.73 846.6L429.09 879.9M384.37 844.2L406.73 863.5L429.09 875.6M384.37 844.2L406.73 858.9L429.09 873.5M384.37 846.2L406.73 867.2L429.09 868.5M384.37 849.8L406.73 865.3L429.09 868.5M384.37 849.8L406.73 871.7L429.09 882.2M384.37 851.8L406.73 868.5L429.09 880.1M384.37 853.8L406.73 869.0L429.09 895.0M384.37 855.8L406.73 883.1L429.09 883.6M384.37 855.8L406.73 885.2L429.09 895.3M384.37 861.2L406.73 895.3L429.09 892.7M384.37 877.6L406.73 895.3L429.09 895.0" stroke="#e2e2e2" stroke-width="0.45" fill="none"/>
<path d="M384.5 820.9V816.1Q384.5 815.5 385.1 815.5H428.9Q429.5 815.5 429.5 816.1V820.9M384.5 823.4V822.5H406.01V839.4M407.45 839.4V822.5H429.5V846.6" stroke="#484848" stroke-width="0.72" fill="none"/>
<g fill="#2a2a2a"><circle cx="403.58" cy="812.90" r="0.85"/><circle cx="405.68" cy="812.90" r="0.85"/><circle cx="407.78" cy="812.90" r="0.85"/><circle cx="409.88" cy="812.90" r="0.85"/></g>
<g fill="#2a2a2a"><circle cx="394.50" cy="819.90" r="0.85"/><circle cx="396.60" cy="819.90" r="0.85"/></g>
<text x="417.91" y="821.00" font-size="3.7" font-weight="normal" fill="#444" text-anchor="middle" >ns</text>
<g fill="#1a12e4"><circle cx="384.37" cy="825.7" r="1.75"/><circle cx="384.37" cy="832.3" r="1.75"/><circle cx="384.37" cy="835.7" r="1.75"/><circle cx="384.37" cy="838.0" r="1.75"/><circle cx="384.37" cy="839.8" r="1.75"/><circle cx="384.37" cy="841.8" r="1.75"/><circle cx="384.37" cy="842.1" r="1.75"/><circle cx="384.37" cy="844.2" r="1.75"/><circle cx="384.37" cy="844.2" r="1.75"/><circle cx="384.37" cy="846.2" r="1.75"/><circle cx="384.37" cy="849.8" r="1.75"/><circle cx="384.37" cy="849.8" r="1.75"/><circle cx="384.37" cy="851.8" r="1.75"/><circle cx="384.37" cy="853.8" r="1.75"/><circle cx="384.37" cy="855.8" r="1.75"/><circle cx="384.37" cy="855.8" r="1.75"/><circle cx="384.37" cy="861.2" r="1.75"/><circle cx="384.37" cy="877.6" r="1.75"/></g>
<g fill="#92199e"><circle cx="406.73" cy="841.6" r="1.75"/><circle cx="406.73" cy="842.5" r="1.75"/><circle cx="406.73" cy="846.6" r="1.75"/><circle cx="406.73" cy="846.6" r="1.75"/><circle cx="406.73" cy="852.4" r="1.75"/><circle cx="406.73" cy="853.9" r="1.75"/><circle cx="406.73" cy="858.9" r="1.75"/><circle cx="406.73" cy="862.6" r="1.75"/><circle cx="406.73" cy="863.5" r="1.75"/><circle cx="406.73" cy="865.3" r="1.75"/><circle cx="406.73" cy="867.2" r="1.75"/><circle cx="406.73" cy="868.5" r="1.75"/><circle cx="406.73" cy="869.0" r="1.75"/><circle cx="406.73" cy="871.7" r="1.75"/><circle cx="406.73" cy="883.1" r="1.75"/><circle cx="406.73" cy="885.2" r="1.75"/><circle cx="406.73" cy="895.3" r="1.75"/><circle cx="406.73" cy="895.3" r="1.75"/></g>
<g fill="#3c9a24"><circle cx="429.09" cy="848.9" r="1.75"/><circle cx="429.09" cy="852.4" r="1.75"/><circle cx="429.09" cy="855.8" r="1.75"/><circle cx="429.09" cy="865.8" r="1.75"/><circle cx="429.09" cy="868.5" r="1.75"/><circle cx="429.09" cy="868.5" r="1.75"/><circle cx="429.09" cy="871.0" r="1.75"/><circle cx="429.09" cy="872.4" r="1.75"/><circle cx="429.09" cy="873.5" r="1.75"/><circle cx="429.09" cy="875.6" r="1.75"/><circle cx="429.09" cy="879.9" r="1.75"/><circle cx="429.09" cy="880.1" r="1.75"/><circle cx="429.09" cy="882.2" r="1.75"/><circle cx="429.09" cy="883.6" r="1.75"/><circle cx="429.09" cy="892.7" r="1.75"/><circle cx="429.09" cy="895.0" r="1.75"/><circle cx="429.09" cy="895.0" r="1.75"/><circle cx="429.09" cy="895.3" r="1.75"/></g>
<path d="M369.55 805.6V917.5H443.9M367.4 917.50H369.55M367.4 895.18H369.55M367.4 872.86H369.55M367.4 850.54H369.55M367.4 828.22H369.55M367.4 805.90H369.55M384.37 917.5v2.0M406.73 917.5v2.0M429.09 917.5v2.0" stroke="#3a3a3a" stroke-width="0.8" fill="none"/>
<text x="364.15" y="920.25" font-size="6.49" font-weight="bold" fill="#000" text-anchor="end" stroke="#000" stroke-width="0.28" stroke-linejoin="round" >10</text>
<text x="364.35" y="918.10" font-size="4.59" font-weight="bold" fill="#000" stroke="#000" stroke-width="0.28" stroke-linejoin="round" >0</text>
<text x="364.15" y="897.93" font-size="6.49" font-weight="bold" fill="#000" text-anchor="end" stroke="#000" stroke-width="0.28" stroke-linejoin="round" >10</text>
<text x="364.35" y="895.78" font-size="4.59" font-weight="bold" fill="#000" stroke="#000" stroke-width="0.28" stroke-linejoin="round" >1</text>
<text x="364.15" y="875.61" font-size="6.49" font-weight="bold" fill="#000" text-anchor="end" stroke="#000" stroke-width="0.28" stroke-linejoin="round" >10</text>
<text x="364.35" y="873.46" font-size="4.59" font-weight="bold" fill="#000" stroke="#000" stroke-width="0.28" stroke-linejoin="round" >2</text>
<text x="364.15" y="853.29" font-size="6.49" font-weight="bold" fill="#000" text-anchor="end" stroke="#000" stroke-width="0.28" stroke-linejoin="round" >10</text>
<text x="364.35" y="851.14" font-size="4.59" font-weight="bold" fill="#000" stroke="#000" stroke-width="0.28" stroke-linejoin="round" >3</text>
<text x="364.15" y="830.97" font-size="6.49" font-weight="bold" fill="#000" text-anchor="end" stroke="#000" stroke-width="0.28" stroke-linejoin="round" >10</text>
<text x="364.35" y="828.82" font-size="4.59" font-weight="bold" fill="#000" stroke="#000" stroke-width="0.28" stroke-linejoin="round" >4</text>
<text x="364.15" y="808.65" font-size="6.49" font-weight="bold" fill="#000" text-anchor="end" stroke="#000" stroke-width="0.28" stroke-linejoin="round" >10</text>
<text x="364.35" y="806.50" font-size="4.59" font-weight="bold" fill="#000" stroke="#000" stroke-width="0.28" stroke-linejoin="round" >5</text>
<text x="349.10" y="920.80" font-size="6.19" font-weight="bold" fill="#000" textLength="105.8" lengthAdjust="spacingAndGlyphs" transform="rotate(-90 349.10 920.80)" stroke="#000" stroke-width="0.28" stroke-linejoin="round" >PVNT50&#160;&#160;(Reciprocal dilution factor)</text>
<text x="385.97" y="924.10" font-size="6.19" font-weight="bold" fill="#000" text-anchor="end" transform="rotate(-45 385.97 924.10)" stroke="#000" stroke-width="0.28" stroke-linejoin="round" >BA.2</text>
<text x="408.33" y="924.10" font-size="6.19" font-weight="bold" fill="#000" text-anchor="end" transform="rotate(-45 408.33 924.10)" stroke="#000" stroke-width="0.28" stroke-linejoin="round" >BA.2.86 K484A</text>
<text x="430.69" y="924.10" font-size="6.19" font-weight="bold" fill="#000" text-anchor="end" transform="rotate(-45 430.69 924.10)" stroke="#000" stroke-width="0.28" stroke-linejoin="round" >BA.2.86</text>
<text x="527.10" y="794.40" font-size="8.59" font-weight="bold" fill="#000" text-anchor="middle" stroke="#000" stroke-width="0.27" stroke-linejoin="round" >BA.2.86 Q493R</text>
<path d="M489.55 878.5H564.8" stroke="#b4b4b4" stroke-width="0.6" fill="none"/>
<path d="M504.39 826.0L526.77 873.0L549.15 849.3M504.39 830.5L526.77 865.5L549.15 866.1M504.39 836.0L526.77 873.4L549.15 851.3M504.39 838.3L526.77 856.1L549.15 856.6M504.39 840.1L526.77 870.7L549.15 872.8M504.39 840.1L526.77 874.8L549.15 868.9M504.39 842.1L526.77 876.2L549.15 856.1M504.39 842.4L526.77 878.5L549.15 871.3M504.39 844.5L526.77 880.3L549.15 882.6M504.39 844.5L526.77 879.4L549.15 888.5M504.39 846.5L526.77 894.0L549.15 880.3M504.39 848.5L526.77 885.3L549.15 871.3M504.39 850.2L526.77 878.5L549.15 880.5M504.39 852.2L526.77 884.4L549.15 895.6M504.39 852.2L526.77 881.7L549.15 895.4M504.39 854.2L526.77 895.6L549.15 873.9M504.39 856.1L526.77 891.1L549.15 875.9M504.39 857.9L526.77 895.6L549.15 895.4M504.39 861.6L526.77 895.6L549.15 883.9M504.39 878.0L526.77 895.6L549.15 895.6" stroke="#e2e2e2" stroke-width="0.45" fill="none"/>
<path d="M504.5 819.9V815.1Q504.5 814.5 505.1 814.5H548.9Q549.5 814.5 549.5 815.1V819.9M504.5 823.7V821.5H526.05V853.9M527.49 853.9V821.5H549.5V847.0" stroke="#484848" stroke-width="0.72" fill="none"/>
<g fill="#2a2a2a"><circle cx="523.62" cy="811.90" r="0.85"/><circle cx="525.72" cy="811.90" r="0.85"/><circle cx="527.82" cy="811.90" r="0.85"/><circle cx="529.92" cy="811.90" r="0.85"/></g>
<g fill="#2a2a2a"><circle cx="512.43" cy="818.90" r="0.85"/><circle cx="514.53" cy="818.90" r="0.85"/><circle cx="516.63" cy="818.90" r="0.85"/><circle cx="518.73" cy="818.90" r="0.85"/></g>
<text x="537.96" y="820.00" font-size="3.7" font-weight="normal" fill="#444" text-anchor="middle" >ns</text>
<g fill="#1a12e4"><circle cx="504.39" cy="826.0" r="1.75"/><circle cx="504.39" cy="830.5" r="1.75"/><circle cx="504.39" cy="836.0" r="1.75"/><circle cx="504.39" cy="838.3" r="1.75"/><circle cx="504.39" cy="840.1" r="1.75"/><circle cx="504.39" cy="840.1" r="1.75"/><circle cx="504.39" cy="842.1" r="1.75"/><circle cx="504.39" cy="842.4" r="1.75"/><circle cx="504.39" cy="844.5" r="1.75"/><circle cx="504.39" cy="844.5" r="1.75"/><circle cx="504.39" cy="846.5" r="1.75"/><circle cx="504.39" cy="848.5" r="1.75"/><circle cx="504.39" cy="850.2" r="1.75"/><circle cx="504.39" cy="852.2" r="1.75"/><circle cx="504.39" cy="852.2" r="1.75"/><circle cx="504.39" cy="854.2" r="1.75"/><circle cx="504.39" cy="856.1" r="1.75"/><circle cx="504.39" cy="857.9" r="1.75"/><circle cx="504.39" cy="861.6" r="1.75"/><circle cx="504.39" cy="878.0" r="1.75"/></g>
<g fill="#92199e"><circle cx="526.77" cy="856.1" r="1.75"/><circle cx="526.77" cy="865.5" r="1.75"/><circle cx="526.77" cy="870.7" r="1.75"/><circle cx="526.77" cy="873.0" r="1.75"/><circle cx="526.77" cy="873.4" r="1.75"/><circle cx="526.77" cy="874.8" r="1.75"/><circle cx="526.77" cy="876.2" r="1.75"/><circle cx="526.77" cy="878.5" r="1.75"/><circle cx="526.77" cy="878.5" r="1.75"/><circle cx="526.77" cy="879.4" r="1.75"/><circle cx="526.77" cy="880.3" r="1.75"/><circle cx="526.77" cy="881.7" r="1.75"/><circle cx="526.77" cy="884.4" r="1.75"/><circle cx="526.77" cy="885.3" r="1.75"/><circle cx="526.77" cy="891.1" r="1.75"/><circle cx="526.77" cy="894.0" r="1.75"/><circle cx="526.77" cy="895.6" r="1.75"/><circle cx="526.77" cy="895.6" r="1.75"/><circle cx="526.77" cy="895.6" r="1.75"/><circle cx="526.77" cy="895.6" r="1.75"/></g>
<g fill="#3c9a24"><circle cx="549.15" cy="849.3" r="1.75"/><circle cx="549.15" cy="851.3" r="1.75"/><circle cx="549.15" cy="856.1" r="1.75"/><circle cx="549.15" cy="856.6" r="1.75"/><circle cx="549.15" cy="866.1" r="1.75"/><circle cx="549.15" cy="868.9" r="1.75"/><circle cx="549.15" cy="871.3" r="1.75"/><circle cx="549.15" cy="871.3" r="1.75"/><circle cx="549.15" cy="872.8" r="1.75"/><circle cx="549.15" cy="873.9" r="1.75"/><circle cx="549.15" cy="875.9" r="1.75"/><circle cx="549.15" cy="880.3" r="1.75"/><circle cx="549.15" cy="880.5" r="1.75"/><circle cx="549.15" cy="882.6" r="1.75"/><circle cx="549.15" cy="883.9" r="1.75"/><circle cx="549.15" cy="888.5" r="1.75"/><circle cx="549.15" cy="895.4" r="1.75"/><circle cx="549.15" cy="895.4" r="1.75"/><circle cx="549.15" cy="895.6" r="1.75"/><circle cx="549.15" cy="895.6" r="1.75"/></g>
<path d="M489.55 805.9V917.9H564.8M487.4 917.90H489.55M487.4 895.56H489.55M487.4 873.22H489.55M487.4 850.88H489.55M487.4 828.54H489.55M487.4 806.20H489.55M504.39 917.9v2.0M526.77 917.9v2.0M549.15 917.9v2.0" stroke="#3a3a3a" stroke-width="0.8" fill="none"/>
<text x="484.15" y="920.65" font-size="6.49" font-weight="bold" fill="#000" text-anchor="end" stroke="#000" stroke-width="0.28" stroke-linejoin="round" >10</text>
<text x="484.35" y="918.50" font-size="4.6" font-weight="bold" fill="#000" stroke="#000" stroke-width="0.28" stroke-linejoin="round" >0</text>
<text x="484.15" y="898.31" font-size="6.49" font-weight="bold" fill="#000" text-anchor="end" stroke="#000" stroke-width="0.28" stroke-linejoin="round" >10</text>
<text x="484.35" y="896.16" font-size="4.6" font-weight="bold" fill="#000" stroke="#000" stroke-width="0.28" stroke-linejoin="round" >1</text>
<text x="484.15" y="875.97" font-size="6.49" font-weight="bold" fill="#000" text-anchor="end" stroke="#000" stroke-width="0.28" stroke-linejoin="round" >10</text>
<text x="484.35" y="873.82" font-size="4.6" font-weight="bold" fill="#000" stroke="#000" stroke-width="0.28" stroke-linejoin="round" >2</text>
<text x="484.15" y="853.63" font-size="6.49" font-weight="bold" fill="#000" text-anchor="end" stroke="#000" stroke-width="0.28" stroke-linejoin="round" >10</text>
<text x="484.35" y="851.48" font-size="4.6" font-weight="bold" fill="#000" stroke="#000" stroke-width="0.28" stroke-linejoin="round" >3</text>
<text x="484.15" y="831.29" font-size="6.49" font-weight="bold" fill="#000" text-anchor="end" stroke="#000" stroke-width="0.28" stroke-linejoin="round" >10</text>
<text x="484.35" y="829.14" font-size="4.6" font-weight="bold" fill="#000" stroke="#000" stroke-width="0.28" stroke-linejoin="round" >4</text>
<text x="484.15" y="808.95" font-size="6.49" font-weight="bold" fill="#000" text-anchor="end" stroke="#000" stroke-width="0.28" stroke-linejoin="round" >10</text>
<text x="484.35" y="806.80" font-size="4.6" font-weight="bold" fill="#000" stroke="#000" stroke-width="0.28" stroke-linejoin="round" >5</text>
<text x="469.10" y="921.20" font-size="6.19" font-weight="bold" fill="#000" textLength="105.9" lengthAdjust="spacingAndGlyphs" transform="rotate(-90 469.10 921.20)" stroke="#000" stroke-width="0.28" stroke-linejoin="round" >PVNT50&#160;&#160;(Reciprocal dilution factor)</text>
<text x="505.99" y="924.50" font-size="6.19" font-weight="bold" fill="#000" text-anchor="end" transform="rotate(-45 505.99 924.50)" stroke="#000" stroke-width="0.28" stroke-linejoin="round" >BA.2</text>
<text x="528.37" y="924.50" font-size="6.19" font-weight="bold" fill="#000" text-anchor="end" transform="rotate(-45 528.37 924.50)" stroke="#000" stroke-width="0.28" stroke-linejoin="round" >BA.2.86 Q493R</text>
<text x="550.75" y="924.50" font-size="6.19" font-weight="bold" fill="#000" text-anchor="end" transform="rotate(-45 550.75 924.50)" stroke="#000" stroke-width="0.28" stroke-linejoin="round" >BA.2.86</text>
</svg>
</body>
</html>
